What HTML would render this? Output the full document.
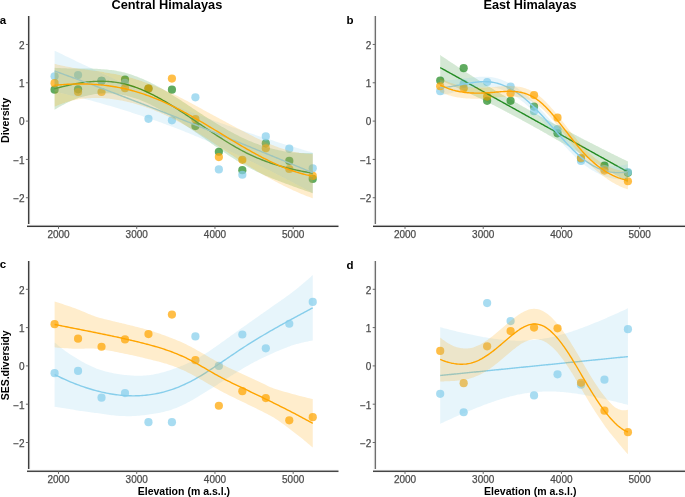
<!DOCTYPE html>
<html><head><meta charset="utf-8"><style>
html,body{margin:0;padding:0;background:#fff;width:685px;height:497px;overflow:hidden}
svg{display:block;will-change:transform}
text{font-family:"Liberation Sans",sans-serif}
.tk{font-size:10px;fill:#4d4d4d;stroke:#4d4d4d;stroke-width:0.25px}
.ti{font-size:13px;font-weight:bold;fill:#000}
.pl{font-size:11.5px;font-weight:bold;fill:#000}
.at{font-size:11px;font-weight:bold;fill:#000}
</style></head><body>
<svg width="685" height="497" viewBox="0 0 685 497">
<defs><filter id="sb" x="0" y="0" width="685" height="497" filterUnits="userSpaceOnUse"><feGaussianBlur stdDeviation="0.35"/></filter></defs>
<rect width="685" height="497" fill="#fff"/>
<g filter="url(#sb)"><circle cx="54.59" cy="89.68" r="4.1" fill="#228B22" fill-opacity="0.72"/><circle cx="78.06" cy="89.29" r="4.1" fill="#228B22" fill-opacity="0.72"/><circle cx="101.53" cy="80.86" r="4.1" fill="#228B22" fill-opacity="0.72"/><circle cx="125.00" cy="79.71" r="4.1" fill="#228B22" fill-opacity="0.72"/><circle cx="148.46" cy="88.53" r="4.1" fill="#228B22" fill-opacity="0.72"/><circle cx="171.93" cy="89.68" r="4.1" fill="#228B22" fill-opacity="0.72"/><circle cx="195.40" cy="126.08" r="4.1" fill="#228B22" fill-opacity="0.72"/><circle cx="218.87" cy="151.76" r="4.1" fill="#228B22" fill-opacity="0.72"/><circle cx="242.34" cy="170.15" r="4.1" fill="#228B22" fill-opacity="0.72"/><circle cx="265.81" cy="143.33" r="4.1" fill="#228B22" fill-opacity="0.72"/><circle cx="289.28" cy="160.95" r="4.1" fill="#228B22" fill-opacity="0.72"/><circle cx="312.75" cy="178.96" r="4.1" fill="#228B22" fill-opacity="0.72"/><circle cx="54.59" cy="76.27" r="4.1" fill="#87CEEB" fill-opacity="0.72"/><circle cx="78.06" cy="75.12" r="4.1" fill="#87CEEB" fill-opacity="0.72"/><circle cx="101.53" cy="80.86" r="4.1" fill="#87CEEB" fill-opacity="0.72"/><circle cx="125.00" cy="82.78" r="4.1" fill="#87CEEB" fill-opacity="0.72"/><circle cx="148.46" cy="118.80" r="4.1" fill="#87CEEB" fill-opacity="0.72"/><circle cx="171.93" cy="120.33" r="4.1" fill="#87CEEB" fill-opacity="0.72"/><circle cx="195.40" cy="97.34" r="4.1" fill="#87CEEB" fill-opacity="0.72"/><circle cx="218.87" cy="169.38" r="4.1" fill="#87CEEB" fill-opacity="0.72"/><circle cx="242.34" cy="174.75" r="4.1" fill="#87CEEB" fill-opacity="0.72"/><circle cx="265.81" cy="136.43" r="4.1" fill="#87CEEB" fill-opacity="0.72"/><circle cx="289.28" cy="148.69" r="4.1" fill="#87CEEB" fill-opacity="0.72"/><circle cx="312.75" cy="168.23" r="4.1" fill="#87CEEB" fill-opacity="0.72"/><circle cx="54.59" cy="83.16" r="4.1" fill="#FFA500" fill-opacity="0.72"/><circle cx="78.06" cy="91.98" r="4.1" fill="#FFA500" fill-opacity="0.72"/><circle cx="101.53" cy="91.98" r="4.1" fill="#FFA500" fill-opacity="0.72"/><circle cx="125.00" cy="88.14" r="4.1" fill="#FFA500" fill-opacity="0.72"/><circle cx="148.46" cy="88.53" r="4.1" fill="#FFA500" fill-opacity="0.72"/><circle cx="171.93" cy="78.56" r="4.1" fill="#FFA500" fill-opacity="0.72"/><circle cx="195.40" cy="119.18" r="4.1" fill="#FFA500" fill-opacity="0.72"/><circle cx="218.87" cy="157.12" r="4.1" fill="#FFA500" fill-opacity="0.72"/><circle cx="242.34" cy="159.80" r="4.1" fill="#FFA500" fill-opacity="0.72"/><circle cx="265.81" cy="148.31" r="4.1" fill="#FFA500" fill-opacity="0.72"/><circle cx="289.28" cy="169.00" r="4.1" fill="#FFA500" fill-opacity="0.72"/><circle cx="312.75" cy="175.90" r="4.1" fill="#FFA500" fill-opacity="0.72"/><path d="M54.59,67.87 L56.21,67.96 L57.84,68.05 L59.46,68.12 L61.08,68.19 L62.71,68.25 L64.33,68.30 L65.95,68.35 L67.58,68.38 L69.20,68.41 L70.82,68.43 L72.45,68.45 L74.07,68.48 L75.70,68.51 L77.32,68.53 L78.94,68.54 L80.57,68.54 L82.19,68.52 L83.81,68.50 L85.44,68.49 L87.06,68.50 L88.68,68.52 L90.31,68.55 L91.93,68.60 L93.56,68.66 L95.18,68.73 L96.80,68.81 L98.43,68.91 L100.05,69.02 L101.67,69.14 L103.30,69.27 L104.92,69.42 L106.55,69.57 L108.17,69.74 L109.79,69.92 L111.42,70.11 L113.04,70.33 L114.66,70.58 L116.29,70.85 L117.91,71.15 L119.53,71.47 L121.16,71.82 L122.78,72.20 L124.41,72.61 L126.03,73.05 L127.65,73.51 L129.28,74.01 L130.90,74.53 L132.52,75.07 L134.15,75.64 L135.77,76.24 L137.39,76.86 L139.02,77.50 L140.64,78.16 L142.27,78.85 L143.89,79.56 L145.51,80.29 L147.14,81.04 L148.76,81.80 L150.38,82.59 L152.01,83.39 L153.63,84.22 L155.25,85.06 L156.88,85.92 L158.50,86.80 L160.13,87.69 L161.75,88.61 L163.37,89.54 L165.00,90.48 L166.62,91.44 L168.24,92.41 L169.87,93.39 L171.49,94.39 L173.11,95.40 L174.74,96.42 L176.36,97.45 L177.99,98.49 L179.61,99.54 L181.23,100.59 L182.86,101.66 L184.48,102.73 L186.10,103.81 L187.73,104.89 L189.35,105.98 L190.97,107.07 L192.60,108.16 L194.22,109.24 L195.85,110.32 L197.47,111.40 L199.09,112.47 L200.72,113.53 L202.34,114.59 L203.96,115.64 L205.59,116.68 L207.21,117.72 L208.83,118.75 L210.46,119.77 L212.08,120.78 L213.71,121.79 L215.33,122.79 L216.95,123.77 L218.58,124.75 L220.20,125.71 L221.82,126.67 L223.45,127.62 L225.07,128.55 L226.69,129.47 L228.32,130.38 L229.94,131.28 L231.57,132.16 L233.19,133.04 L234.81,133.89 L236.44,134.74 L238.06,135.57 L239.68,136.38 L241.31,137.18 L242.93,137.97 L244.55,138.73 L246.18,139.47 L247.80,140.19 L249.43,140.89 L251.05,141.58 L252.67,142.24 L254.30,142.88 L255.92,143.50 L257.54,144.10 L259.17,144.69 L260.79,145.25 L262.41,145.79 L264.04,146.32 L265.66,146.83 L267.29,147.31 L268.91,147.78 L270.53,148.23 L272.16,148.66 L273.78,149.07 L275.40,149.46 L277.03,149.83 L278.65,150.19 L280.27,150.53 L281.90,150.84 L283.52,151.13 L285.15,151.40 L286.77,151.64 L288.39,151.87 L290.02,152.07 L291.64,152.25 L293.26,152.42 L294.89,152.56 L296.51,152.68 L298.13,152.79 L299.76,152.88 L301.38,152.96 L303.01,153.02 L304.63,153.06 L306.25,153.09 L307.88,153.11 L309.50,153.11 L311.12,153.11 L312.75,153.09 L312.75,193.17 L311.12,192.63 L309.50,192.09 L307.88,191.54 L306.25,190.99 L304.63,190.43 L303.01,189.86 L301.38,189.30 L299.76,188.72 L298.13,188.15 L296.51,187.57 L294.89,186.98 L293.26,186.39 L291.64,185.80 L290.02,185.21 L288.39,184.61 L286.77,184.01 L285.15,183.40 L283.52,182.80 L281.90,182.19 L280.27,181.57 L278.65,180.96 L277.03,180.33 L275.40,179.70 L273.78,179.05 L272.16,178.39 L270.53,177.73 L268.91,177.05 L267.29,176.36 L265.66,175.65 L264.04,174.94 L262.41,174.21 L260.79,173.46 L259.17,172.71 L257.54,171.94 L255.92,171.15 L254.30,170.35 L252.67,169.53 L251.05,168.69 L249.43,167.84 L247.80,166.97 L246.18,166.08 L244.55,165.18 L242.93,164.25 L241.31,163.31 L239.68,162.35 L238.06,161.37 L236.44,160.38 L234.81,159.36 L233.19,158.33 L231.57,157.29 L229.94,156.23 L228.32,155.15 L226.69,154.07 L225.07,152.97 L223.45,151.86 L221.82,150.74 L220.20,149.62 L218.58,148.49 L216.95,147.35 L215.33,146.20 L213.71,145.05 L212.08,143.90 L210.46,142.75 L208.83,141.59 L207.21,140.43 L205.59,139.28 L203.96,138.12 L202.34,136.97 L200.72,135.83 L199.09,134.68 L197.47,133.55 L195.85,132.41 L194.22,131.29 L192.60,130.18 L190.97,129.07 L189.35,127.98 L187.73,126.89 L186.10,125.81 L184.48,124.73 L182.86,123.66 L181.23,122.59 L179.61,121.54 L177.99,120.49 L176.36,119.45 L174.74,118.42 L173.11,117.40 L171.49,116.39 L169.87,115.39 L168.24,114.41 L166.62,113.44 L165.00,112.48 L163.37,111.54 L161.75,110.61 L160.13,109.69 L158.50,108.80 L156.88,107.92 L155.25,107.06 L153.63,106.22 L152.01,105.39 L150.38,104.59 L148.76,103.80 L147.14,103.04 L145.51,102.31 L143.89,101.60 L142.27,100.91 L140.64,100.26 L139.02,99.62 L137.39,99.02 L135.77,98.44 L134.15,97.90 L132.52,97.38 L130.90,96.89 L129.28,96.43 L127.65,96.00 L126.03,95.60 L124.41,95.24 L122.78,94.91 L121.16,94.60 L119.53,94.33 L117.91,94.09 L116.29,93.88 L114.66,93.70 L113.04,93.55 L111.42,93.43 L109.79,93.33 L108.17,93.27 L106.55,93.25 L104.92,93.26 L103.30,93.32 L101.67,93.41 L100.05,93.53 L98.43,93.69 L96.80,93.88 L95.18,94.10 L93.56,94.35 L91.93,94.64 L90.31,94.95 L88.68,95.28 L87.06,95.64 L85.44,96.03 L83.81,96.44 L82.19,96.87 L80.57,97.34 L78.94,97.86 L77.32,98.42 L75.70,99.03 L74.07,99.68 L72.45,100.35 L70.82,101.05 L69.20,101.78 L67.58,102.54 L65.95,103.33 L64.33,104.15 L62.71,105.01 L61.08,105.90 L59.46,106.82 L57.84,107.77 L56.21,108.74 L54.59,109.74Z" fill="#228B22" fill-opacity="0.2"/><path d="M54.59,88.81 L56.21,88.35 L57.84,87.91 L59.46,87.47 L61.08,87.04 L62.71,86.63 L64.33,86.23 L65.95,85.84 L67.58,85.46 L69.20,85.09 L70.82,84.74 L72.45,84.40 L74.07,84.08 L75.70,83.77 L77.32,83.48 L78.94,83.20 L80.57,82.94 L82.19,82.70 L83.81,82.47 L85.44,82.26 L87.06,82.07 L88.68,81.90 L90.31,81.75 L91.93,81.62 L93.56,81.51 L95.18,81.42 L96.80,81.35 L98.43,81.30 L100.05,81.27 L101.67,81.27 L103.30,81.29 L104.92,81.34 L106.55,81.41 L108.17,81.50 L109.79,81.62 L111.42,81.77 L113.04,81.94 L114.66,82.14 L116.29,82.37 L117.91,82.62 L119.53,82.90 L121.16,83.21 L122.78,83.56 L124.41,83.93 L126.03,84.33 L127.65,84.76 L129.28,85.22 L130.90,85.71 L132.52,86.22 L134.15,86.77 L135.77,87.34 L137.39,87.94 L139.02,88.56 L140.64,89.21 L142.27,89.88 L143.89,90.58 L145.51,91.30 L147.14,92.04 L148.76,92.80 L150.38,93.59 L152.01,94.39 L153.63,95.22 L155.25,96.06 L156.88,96.92 L158.50,97.80 L160.13,98.69 L161.75,99.61 L163.37,100.54 L165.00,101.48 L166.62,102.44 L168.24,103.41 L169.87,104.39 L171.49,105.39 L173.11,106.40 L174.74,107.42 L176.36,108.45 L177.99,109.49 L179.61,110.54 L181.23,111.59 L182.86,112.66 L184.48,113.73 L186.10,114.81 L187.73,115.89 L189.35,116.98 L190.97,118.07 L192.60,119.17 L194.22,120.27 L195.85,121.37 L197.47,122.47 L199.09,123.57 L200.72,124.68 L202.34,125.78 L203.96,126.88 L205.59,127.98 L207.21,129.08 L208.83,130.17 L210.46,131.26 L212.08,132.34 L213.71,133.42 L215.33,134.49 L216.95,135.56 L218.58,136.62 L220.20,137.67 L221.82,138.71 L223.45,139.74 L225.07,140.76 L226.69,141.77 L228.32,142.77 L229.94,143.75 L231.57,144.73 L233.19,145.68 L234.81,146.63 L236.44,147.56 L238.06,148.47 L239.68,149.37 L241.31,150.25 L242.93,151.11 L244.55,151.95 L246.18,152.78 L247.80,153.58 L249.43,154.37 L251.05,155.13 L252.67,155.88 L254.30,156.61 L255.92,157.33 L257.54,158.02 L259.17,158.70 L260.79,159.36 L262.41,160.00 L264.04,160.63 L265.66,161.24 L267.29,161.83 L268.91,162.41 L270.53,162.98 L272.16,163.53 L273.78,164.06 L275.40,164.58 L277.03,165.08 L278.65,165.57 L280.27,166.05 L281.90,166.51 L283.52,166.96 L285.15,167.40 L286.77,167.83 L288.39,168.24 L290.02,168.64 L291.64,169.03 L293.26,169.41 L294.89,169.77 L296.51,170.13 L298.13,170.47 L299.76,170.80 L301.38,171.13 L303.01,171.44 L304.63,171.74 L306.25,172.04 L307.88,172.32 L309.50,172.60 L311.12,172.87 L312.75,173.13" fill="none" stroke="#228B22" stroke-width="1.4" stroke-linejoin="round"/><path d="M54.59,50.63 L56.21,51.43 L57.84,52.22 L59.46,53.01 L61.08,53.81 L62.71,54.60 L64.33,55.39 L65.95,56.17 L67.58,56.96 L69.20,57.75 L70.82,58.53 L72.45,59.31 L74.07,60.10 L75.70,60.88 L77.32,61.66 L78.94,62.43 L80.57,63.21 L82.19,63.99 L83.81,64.76 L85.44,65.54 L87.06,66.31 L88.68,67.08 L90.31,67.85 L91.93,68.62 L93.56,69.38 L95.18,70.15 L96.80,70.91 L98.43,71.67 L100.05,72.44 L101.67,73.20 L103.30,73.95 L104.92,74.71 L106.55,75.47 L108.17,76.22 L109.79,76.97 L111.42,77.72 L113.04,78.47 L114.66,79.21 L116.29,79.96 L117.91,80.71 L119.53,81.45 L121.16,82.19 L122.78,82.93 L124.41,83.67 L126.03,84.40 L127.65,85.14 L129.28,85.87 L130.90,86.60 L132.52,87.32 L134.15,88.05 L135.77,88.78 L137.39,89.50 L139.02,90.22 L140.64,90.94 L142.27,91.66 L143.89,92.38 L145.51,93.09 L147.14,93.80 L148.76,94.50 L150.38,95.21 L152.01,95.92 L153.63,96.62 L155.25,97.33 L156.88,98.03 L158.50,98.73 L160.13,99.42 L161.75,100.11 L163.37,100.80 L165.00,101.48 L166.62,102.15 L168.24,102.83 L169.87,103.51 L171.49,104.18 L173.11,104.86 L174.74,105.53 L176.36,106.20 L177.99,106.86 L179.61,107.53 L181.23,108.19 L182.86,108.84 L184.48,109.48 L186.10,110.12 L187.73,110.76 L189.35,111.39 L190.97,112.02 L192.60,112.64 L194.22,113.26 L195.85,113.88 L197.47,114.50 L199.09,115.11 L200.72,115.73 L202.34,116.35 L203.96,116.96 L205.59,117.57 L207.21,118.17 L208.83,118.77 L210.46,119.36 L212.08,119.95 L213.71,120.54 L215.33,121.13 L216.95,121.71 L218.58,122.30 L220.20,122.88 L221.82,123.47 L223.45,124.04 L225.07,124.62 L226.69,125.19 L228.32,125.76 L229.94,126.33 L231.57,126.90 L233.19,127.46 L234.81,128.02 L236.44,128.58 L238.06,129.14 L239.68,129.70 L241.31,130.25 L242.93,130.80 L244.55,131.35 L246.18,131.90 L247.80,132.44 L249.43,132.98 L251.05,133.52 L252.67,134.06 L254.30,134.60 L255.92,135.13 L257.54,135.66 L259.17,136.20 L260.79,136.72 L262.41,137.25 L264.04,137.77 L265.66,138.30 L267.29,138.81 L268.91,139.33 L270.53,139.85 L272.16,140.36 L273.78,140.87 L275.40,141.38 L277.03,141.89 L278.65,142.39 L280.27,142.90 L281.90,143.40 L283.52,143.90 L285.15,144.39 L286.77,144.89 L288.39,145.38 L290.02,145.87 L291.64,146.36 L293.26,146.84 L294.89,147.33 L296.51,147.81 L298.13,148.29 L299.76,148.77 L301.38,149.25 L303.01,149.72 L304.63,150.19 L306.25,150.66 L307.88,151.13 L309.50,151.60 L311.12,152.06 L312.75,152.52 L312.75,192.92 L311.12,192.05 L309.50,191.17 L307.88,190.30 L306.25,189.43 L304.63,188.56 L303.01,187.69 L301.38,186.83 L299.76,185.97 L298.13,185.11 L296.51,184.26 L294.89,183.40 L293.26,182.55 L291.64,181.70 L290.02,180.85 L288.39,180.01 L286.77,179.17 L285.15,178.32 L283.52,177.49 L281.90,176.65 L280.27,175.82 L278.65,174.98 L277.03,174.16 L275.40,173.33 L273.78,172.51 L272.16,171.69 L270.53,170.87 L268.91,170.05 L267.29,169.24 L265.66,168.42 L264.04,167.61 L262.41,166.81 L260.79,166.00 L259.17,165.20 L257.54,164.40 L255.92,163.61 L254.30,162.81 L252.67,162.02 L251.05,161.23 L249.43,160.45 L247.80,159.66 L246.18,158.88 L244.55,158.10 L242.93,157.33 L241.31,156.56 L239.68,155.79 L238.06,155.02 L236.44,154.26 L234.81,153.50 L233.19,152.74 L231.57,151.98 L229.94,151.23 L228.32,150.48 L226.69,149.73 L225.07,148.99 L223.45,148.25 L221.82,147.51 L220.20,146.78 L218.58,146.05 L216.95,145.32 L215.33,144.60 L213.71,143.87 L212.08,143.15 L210.46,142.43 L208.83,141.72 L207.21,141.01 L205.59,140.30 L203.96,139.60 L202.34,138.91 L200.72,138.23 L199.09,137.54 L197.47,136.85 L195.85,136.17 L194.22,135.49 L192.60,134.81 L190.97,134.13 L189.35,133.46 L187.73,132.80 L186.10,132.14 L184.48,131.49 L182.86,130.84 L181.23,130.20 L179.61,129.57 L177.99,128.94 L176.36,128.32 L174.74,127.70 L173.11,127.09 L171.49,126.48 L169.87,125.87 L168.24,125.26 L166.62,124.66 L165.00,124.05 L163.37,123.45 L161.75,122.86 L160.13,122.27 L158.50,121.69 L156.88,121.12 L155.25,120.55 L153.63,119.98 L152.01,119.42 L150.38,118.85 L148.76,118.29 L147.14,117.74 L145.51,117.18 L143.89,116.63 L142.27,116.08 L140.64,115.54 L139.02,115.00 L137.39,114.46 L135.77,113.93 L134.15,113.40 L132.52,112.88 L130.90,112.36 L129.28,111.84 L127.65,111.32 L126.03,110.80 L124.41,110.29 L122.78,109.79 L121.16,109.28 L119.53,108.78 L117.91,108.29 L116.29,107.80 L114.66,107.31 L113.04,106.82 L111.42,106.34 L109.79,105.85 L108.17,105.38 L106.55,104.90 L104.92,104.43 L103.30,103.96 L101.67,103.50 L100.05,103.04 L98.43,102.58 L96.80,102.13 L95.18,101.68 L93.56,101.23 L91.93,100.78 L90.31,100.34 L88.68,99.90 L87.06,99.47 L85.44,99.03 L83.81,98.61 L82.19,98.18 L80.57,97.76 L78.94,97.34 L77.32,96.92 L75.70,96.51 L74.07,96.10 L72.45,95.69 L70.82,95.29 L69.20,94.89 L67.58,94.49 L65.95,94.10 L64.33,93.71 L62.71,93.32 L61.08,92.93 L59.46,92.55 L57.84,92.18 L56.21,91.80 L54.59,91.43Z" fill="#87CEEB" fill-opacity="0.2"/><path d="M54.59,71.03 L56.21,71.61 L57.84,72.20 L59.46,72.78 L61.08,73.37 L62.71,73.96 L64.33,74.55 L65.95,75.14 L67.58,75.73 L69.20,76.32 L70.82,76.91 L72.45,77.50 L74.07,78.10 L75.70,78.69 L77.32,79.29 L78.94,79.89 L80.57,80.48 L82.19,81.08 L83.81,81.68 L85.44,82.29 L87.06,82.89 L88.68,83.49 L90.31,84.09 L91.93,84.70 L93.56,85.31 L95.18,85.91 L96.80,86.52 L98.43,87.13 L100.05,87.74 L101.67,88.35 L103.30,88.96 L104.92,89.57 L106.55,90.18 L108.17,90.80 L109.79,91.41 L111.42,92.03 L113.04,92.64 L114.66,93.26 L116.29,93.88 L117.91,94.50 L119.53,95.12 L121.16,95.74 L122.78,96.36 L124.41,96.98 L126.03,97.60 L127.65,98.23 L129.28,98.85 L130.90,99.48 L132.52,100.10 L134.15,100.73 L135.77,101.36 L137.39,101.98 L139.02,102.61 L140.64,103.24 L142.27,103.87 L143.89,104.50 L145.51,105.13 L147.14,105.77 L148.76,106.40 L150.38,107.03 L152.01,107.67 L153.63,108.30 L155.25,108.94 L156.88,109.57 L158.50,110.21 L160.13,110.85 L161.75,111.49 L163.37,112.13 L165.00,112.76 L166.62,113.40 L168.24,114.05 L169.87,114.69 L171.49,115.33 L173.11,115.97 L174.74,116.61 L176.36,117.26 L177.99,117.90 L179.61,118.55 L181.23,119.19 L182.86,119.84 L184.48,120.48 L186.10,121.13 L187.73,121.78 L189.35,122.43 L190.97,123.08 L192.60,123.73 L194.22,124.37 L195.85,125.02 L197.47,125.68 L199.09,126.33 L200.72,126.98 L202.34,127.63 L203.96,128.28 L205.59,128.94 L207.21,129.59 L208.83,130.24 L210.46,130.90 L212.08,131.55 L213.71,132.21 L215.33,132.86 L216.95,133.52 L218.58,134.17 L220.20,134.83 L221.82,135.49 L223.45,136.15 L225.07,136.80 L226.69,137.46 L228.32,138.12 L229.94,138.78 L231.57,139.44 L233.19,140.10 L234.81,140.76 L236.44,141.42 L238.06,142.08 L239.68,142.74 L241.31,143.40 L242.93,144.07 L244.55,144.73 L246.18,145.39 L247.80,146.05 L249.43,146.72 L251.05,147.38 L252.67,148.04 L254.30,148.71 L255.92,149.37 L257.54,150.03 L259.17,150.70 L260.79,151.36 L262.41,152.03 L264.04,152.69 L265.66,153.36 L267.29,154.02 L268.91,154.69 L270.53,155.36 L272.16,156.02 L273.78,156.69 L275.40,157.36 L277.03,158.02 L278.65,158.69 L280.27,159.36 L281.90,160.02 L283.52,160.69 L285.15,161.36 L286.77,162.03 L288.39,162.69 L290.02,163.36 L291.64,164.03 L293.26,164.70 L294.89,165.37 L296.51,166.03 L298.13,166.70 L299.76,167.37 L301.38,168.04 L303.01,168.71 L304.63,169.38 L306.25,170.05 L307.88,170.71 L309.50,171.38 L311.12,172.05 L312.75,172.72" fill="none" stroke="#87CEEB" stroke-width="1.4" stroke-linejoin="round"/><path d="M54.59,63.86 L56.21,64.26 L57.84,64.65 L59.46,65.02 L61.08,65.39 L62.71,65.74 L64.33,66.09 L65.95,66.42 L67.58,66.73 L69.20,67.04 L70.82,67.33 L72.45,67.63 L74.07,67.92 L75.70,68.21 L77.32,68.49 L78.94,68.74 L80.57,68.98 L82.19,69.18 L83.81,69.37 L85.44,69.57 L87.06,69.77 L88.68,69.99 L90.31,70.20 L91.93,70.42 L93.56,70.65 L95.18,70.88 L96.80,71.12 L98.43,71.36 L100.05,71.61 L101.67,71.86 L103.30,72.12 L104.92,72.38 L106.55,72.64 L108.17,72.90 L109.79,73.17 L111.42,73.45 L113.04,73.74 L114.66,74.04 L116.29,74.36 L117.91,74.69 L119.53,75.03 L121.16,75.39 L122.78,75.76 L124.41,76.15 L126.03,76.55 L127.65,76.97 L129.28,77.40 L130.90,77.84 L132.52,78.30 L134.15,78.77 L135.77,79.26 L137.39,79.76 L139.02,80.27 L140.64,80.80 L142.27,81.34 L143.89,81.89 L145.51,82.46 L147.14,83.03 L148.76,83.63 L150.38,84.23 L152.01,84.84 L153.63,85.47 L155.25,86.11 L156.88,86.76 L158.50,87.43 L160.13,88.10 L161.75,88.79 L163.37,89.49 L165.00,90.20 L166.62,90.92 L168.24,91.66 L169.87,92.41 L171.49,93.17 L173.11,93.94 L174.74,94.72 L176.36,95.51 L177.99,96.32 L179.61,97.13 L181.23,97.96 L182.86,98.79 L184.48,99.63 L186.10,100.48 L187.73,101.34 L189.35,102.21 L190.97,103.09 L192.60,103.96 L194.22,104.84 L195.85,105.72 L197.47,106.60 L199.09,107.48 L200.72,108.36 L202.34,109.24 L203.96,110.13 L205.59,111.01 L207.21,111.89 L208.83,112.77 L210.46,113.65 L212.08,114.53 L213.71,115.42 L215.33,116.30 L216.95,117.18 L218.58,118.06 L220.20,118.94 L221.82,119.81 L223.45,120.69 L225.07,121.56 L226.69,122.44 L228.32,123.31 L229.94,124.18 L231.57,125.05 L233.19,125.92 L234.81,126.79 L236.44,127.65 L238.06,128.51 L239.68,129.37 L241.31,130.23 L242.93,131.08 L244.55,131.93 L246.18,132.77 L247.80,133.61 L249.43,134.44 L251.05,135.26 L252.67,136.07 L254.30,136.88 L255.92,137.67 L257.54,138.46 L259.17,139.23 L260.79,140.00 L262.41,140.75 L264.04,141.48 L265.66,142.21 L267.29,142.91 L268.91,143.61 L270.53,144.28 L272.16,144.95 L273.78,145.59 L275.40,146.21 L277.03,146.82 L278.65,147.41 L280.27,147.98 L281.90,148.52 L283.52,149.04 L285.15,149.54 L286.77,150.01 L288.39,150.46 L290.02,150.88 L291.64,151.28 L293.26,151.65 L294.89,152.00 L296.51,152.32 L298.13,152.62 L299.76,152.89 L301.38,153.14 L303.01,153.36 L304.63,153.56 L306.25,153.72 L307.88,153.87 L309.50,153.98 L311.12,154.08 L312.75,154.14 L312.75,198.21 L311.12,197.66 L309.50,197.09 L307.88,196.50 L306.25,195.89 L304.63,195.26 L303.01,194.61 L301.38,193.94 L299.76,193.26 L298.13,192.56 L296.51,191.85 L294.89,191.12 L293.26,190.38 L291.64,189.62 L290.02,188.85 L288.39,188.07 L286.77,187.28 L285.15,186.48 L283.52,185.67 L281.90,184.85 L280.27,184.02 L278.65,183.19 L277.03,182.34 L275.40,181.48 L273.78,180.62 L272.16,179.74 L270.53,178.85 L268.91,177.95 L267.29,177.05 L265.66,176.13 L264.04,175.21 L262.41,174.27 L260.79,173.33 L259.17,172.38 L257.54,171.42 L255.92,170.45 L254.30,169.47 L252.67,168.49 L251.05,167.50 L249.43,166.49 L247.80,165.49 L246.18,164.47 L244.55,163.45 L242.93,162.42 L241.31,161.38 L239.68,160.33 L238.06,159.28 L236.44,158.22 L234.81,157.16 L233.19,156.09 L231.57,155.01 L229.94,153.93 L228.32,152.85 L226.69,151.77 L225.07,150.68 L223.45,149.59 L221.82,148.50 L220.20,147.41 L218.58,146.33 L216.95,145.24 L215.33,144.16 L213.71,143.08 L212.08,142.00 L210.46,140.93 L208.83,139.87 L207.21,138.81 L205.59,137.76 L203.96,136.71 L202.34,135.68 L200.72,134.65 L199.09,133.64 L197.47,132.63 L195.85,131.64 L194.22,130.65 L192.60,129.68 L190.97,128.73 L189.35,127.79 L187.73,126.85 L186.10,125.93 L184.48,125.02 L182.86,124.11 L181.23,123.22 L179.61,122.34 L177.99,121.47 L176.36,120.61 L174.74,119.76 L173.11,118.93 L171.49,118.11 L169.87,117.31 L168.24,116.51 L166.62,115.74 L165.00,114.98 L163.37,114.23 L161.75,113.50 L160.13,112.79 L158.50,112.09 L156.88,111.40 L155.25,110.73 L153.63,110.08 L152.01,109.45 L150.38,108.83 L148.76,108.23 L147.14,107.64 L145.51,107.07 L143.89,106.52 L142.27,105.98 L140.64,105.46 L139.02,104.96 L137.39,104.47 L135.77,104.00 L134.15,103.55 L132.52,103.12 L130.90,102.70 L129.28,102.30 L127.65,101.91 L126.03,101.54 L124.41,101.19 L122.78,100.86 L121.16,100.54 L119.53,100.24 L117.91,99.96 L116.29,99.69 L114.66,99.44 L113.04,99.21 L111.42,98.99 L109.79,98.78 L108.17,98.60 L106.55,98.44 L104.92,98.31 L103.30,98.20 L101.67,98.12 L100.05,98.05 L98.43,98.01 L96.80,98.00 L95.18,98.00 L93.56,98.02 L91.93,98.07 L90.31,98.13 L88.68,98.22 L87.06,98.32 L85.44,98.44 L83.81,98.58 L82.19,98.74 L80.57,98.93 L78.94,99.17 L77.32,99.46 L75.70,99.79 L74.07,100.16 L72.45,100.55 L70.82,100.96 L69.20,101.40 L67.58,101.86 L65.95,102.36 L64.33,102.90 L62.71,103.46 L61.08,104.06 L59.46,104.68 L57.84,105.34 L56.21,106.02 L54.59,106.73Z" fill="#FFA500" fill-opacity="0.2"/><path d="M54.59,85.30 L56.21,85.14 L57.84,84.99 L59.46,84.85 L61.08,84.72 L62.71,84.60 L64.33,84.49 L65.95,84.39 L67.58,84.30 L69.20,84.22 L70.82,84.15 L72.45,84.09 L74.07,84.04 L75.70,84.00 L77.32,83.97 L78.94,83.96 L80.57,83.95 L82.19,83.96 L83.81,83.98 L85.44,84.01 L87.06,84.05 L88.68,84.10 L90.31,84.17 L91.93,84.25 L93.56,84.34 L95.18,84.44 L96.80,84.56 L98.43,84.69 L100.05,84.83 L101.67,84.99 L103.30,85.16 L104.92,85.34 L106.55,85.54 L108.17,85.75 L109.79,85.98 L111.42,86.22 L113.04,86.47 L114.66,86.74 L116.29,87.02 L117.91,87.32 L119.53,87.64 L121.16,87.97 L122.78,88.31 L124.41,88.67 L126.03,89.05 L127.65,89.44 L129.28,89.85 L130.90,90.27 L132.52,90.71 L134.15,91.16 L135.77,91.63 L137.39,92.12 L139.02,92.62 L140.64,93.13 L142.27,93.66 L143.89,94.20 L145.51,94.76 L147.14,95.34 L148.76,95.93 L150.38,96.53 L152.01,97.15 L153.63,97.78 L155.25,98.42 L156.88,99.08 L158.50,99.76 L160.13,100.44 L161.75,101.15 L163.37,101.86 L165.00,102.59 L166.62,103.33 L168.24,104.09 L169.87,104.86 L171.49,105.64 L173.11,106.43 L174.74,107.24 L176.36,108.06 L177.99,108.89 L179.61,109.73 L181.23,110.59 L182.86,111.45 L184.48,112.32 L186.10,113.21 L187.73,114.10 L189.35,115.00 L190.97,115.91 L192.60,116.82 L194.22,117.75 L195.85,118.68 L197.47,119.62 L199.09,120.56 L200.72,121.51 L202.34,122.46 L203.96,123.42 L205.59,124.38 L207.21,125.35 L208.83,126.32 L210.46,127.29 L212.08,128.27 L213.71,129.25 L215.33,130.23 L216.95,131.21 L218.58,132.19 L220.20,133.17 L221.82,134.16 L223.45,135.14 L225.07,136.12 L226.69,137.10 L228.32,138.08 L229.94,139.06 L231.57,140.03 L233.19,141.00 L234.81,141.97 L236.44,142.94 L238.06,143.90 L239.68,144.85 L241.31,145.80 L242.93,146.75 L244.55,147.69 L246.18,148.62 L247.80,149.55 L249.43,150.47 L251.05,151.38 L252.67,152.28 L254.30,153.18 L255.92,154.06 L257.54,154.94 L259.17,155.81 L260.79,156.66 L262.41,157.51 L264.04,158.34 L265.66,159.17 L267.29,159.98 L268.91,160.78 L270.53,161.57 L272.16,162.34 L273.78,163.10 L275.40,163.85 L277.03,164.58 L278.65,165.30 L280.27,166.00 L281.90,166.69 L283.52,167.36 L285.15,168.01 L286.77,168.65 L288.39,169.27 L290.02,169.87 L291.64,170.45 L293.26,171.01 L294.89,171.56 L296.51,172.09 L298.13,172.59 L299.76,173.08 L301.38,173.54 L303.01,173.99 L304.63,174.41 L306.25,174.81 L307.88,175.18 L309.50,175.54 L311.12,175.87 L312.75,176.18" fill="none" stroke="#FFA500" stroke-width="1.4" stroke-linejoin="round"/><circle cx="440.20" cy="80.48" r="4.1" fill="#228B22" fill-opacity="0.72"/><circle cx="463.67" cy="68.22" r="4.1" fill="#228B22" fill-opacity="0.72"/><circle cx="487.13" cy="100.79" r="4.1" fill="#228B22" fill-opacity="0.72"/><circle cx="510.60" cy="100.79" r="4.1" fill="#228B22" fill-opacity="0.72"/><circle cx="534.06" cy="106.54" r="4.1" fill="#228B22" fill-opacity="0.72"/><circle cx="557.53" cy="133.36" r="4.1" fill="#228B22" fill-opacity="0.72"/><circle cx="581.00" cy="158.65" r="4.1" fill="#228B22" fill-opacity="0.72"/><circle cx="604.46" cy="165.55" r="4.1" fill="#228B22" fill-opacity="0.72"/><circle cx="627.93" cy="172.83" r="4.1" fill="#228B22" fill-opacity="0.72"/><circle cx="440.20" cy="91.21" r="4.1" fill="#87CEEB" fill-opacity="0.72"/><circle cx="463.67" cy="83.93" r="4.1" fill="#87CEEB" fill-opacity="0.72"/><circle cx="487.13" cy="82.01" r="4.1" fill="#87CEEB" fill-opacity="0.72"/><circle cx="510.60" cy="86.61" r="4.1" fill="#87CEEB" fill-opacity="0.72"/><circle cx="534.06" cy="111.14" r="4.1" fill="#87CEEB" fill-opacity="0.72"/><circle cx="557.53" cy="129.15" r="4.1" fill="#87CEEB" fill-opacity="0.72"/><circle cx="581.00" cy="160.95" r="4.1" fill="#87CEEB" fill-opacity="0.72"/><circle cx="604.46" cy="169.00" r="4.1" fill="#87CEEB" fill-opacity="0.72"/><circle cx="627.93" cy="172.07" r="4.1" fill="#87CEEB" fill-opacity="0.72"/><circle cx="440.20" cy="86.23" r="4.1" fill="#FFA500" fill-opacity="0.72"/><circle cx="463.67" cy="88.14" r="4.1" fill="#FFA500" fill-opacity="0.72"/><circle cx="487.13" cy="96.58" r="4.1" fill="#FFA500" fill-opacity="0.72"/><circle cx="510.60" cy="93.13" r="4.1" fill="#FFA500" fill-opacity="0.72"/><circle cx="534.06" cy="95.04" r="4.1" fill="#FFA500" fill-opacity="0.72"/><circle cx="557.53" cy="117.65" r="4.1" fill="#FFA500" fill-opacity="0.72"/><circle cx="581.00" cy="157.89" r="4.1" fill="#FFA500" fill-opacity="0.72"/><circle cx="604.46" cy="170.53" r="4.1" fill="#FFA500" fill-opacity="0.72"/><circle cx="627.93" cy="181.26" r="4.1" fill="#FFA500" fill-opacity="0.72"/><path d="M440.20,55.10 L441.38,55.90 L442.56,56.69 L443.74,57.49 L444.92,58.28 L446.10,59.07 L447.28,59.86 L448.46,60.65 L449.64,61.43 L450.83,62.22 L452.01,63.00 L453.19,63.78 L454.37,64.56 L455.55,65.34 L456.73,66.11 L457.91,66.88 L459.09,67.65 L460.27,68.42 L461.45,69.19 L462.63,69.95 L463.81,70.72 L464.99,71.48 L466.17,72.23 L467.35,72.99 L468.54,73.74 L469.72,74.49 L470.90,75.24 L472.08,75.99 L473.26,76.74 L474.44,77.49 L475.62,78.24 L476.80,78.99 L477.98,79.73 L479.16,80.48 L480.34,81.23 L481.52,81.97 L482.70,82.71 L483.88,83.45 L485.06,84.19 L486.25,84.93 L487.43,85.66 L488.61,86.39 L489.79,87.12 L490.97,87.85 L492.15,88.57 L493.33,89.28 L494.51,90.00 L495.69,90.71 L496.87,91.41 L498.05,92.11 L499.23,92.81 L500.41,93.50 L501.59,94.19 L502.78,94.88 L503.96,95.57 L505.14,96.25 L506.32,96.94 L507.50,97.63 L508.68,98.31 L509.86,99.00 L511.04,99.69 L512.22,100.37 L513.40,101.05 L514.58,101.74 L515.76,102.42 L516.94,103.10 L518.12,103.78 L519.30,104.45 L520.49,105.13 L521.67,105.81 L522.85,106.48 L524.03,107.15 L525.21,107.82 L526.39,108.49 L527.57,109.16 L528.75,109.83 L529.93,110.49 L531.11,111.15 L532.29,111.81 L533.47,112.47 L534.65,113.13 L535.83,113.78 L537.01,114.44 L538.20,115.09 L539.38,115.73 L540.56,116.38 L541.74,117.03 L542.92,117.67 L544.10,118.31 L545.28,118.96 L546.46,119.60 L547.64,120.23 L548.82,120.87 L550.00,121.51 L551.18,122.14 L552.36,122.78 L553.54,123.41 L554.72,124.04 L555.91,124.68 L557.09,125.31 L558.27,125.94 L559.45,126.57 L560.63,127.20 L561.81,127.83 L562.99,128.45 L564.17,129.08 L565.35,129.71 L566.53,130.34 L567.71,130.97 L568.89,131.60 L570.07,132.22 L571.25,132.85 L572.44,133.48 L573.62,134.10 L574.80,134.72 L575.98,135.34 L577.16,135.96 L578.34,136.57 L579.52,137.19 L580.70,137.80 L581.88,138.41 L583.06,139.02 L584.24,139.63 L585.42,140.24 L586.60,140.84 L587.78,141.45 L588.96,142.05 L590.15,142.66 L591.33,143.26 L592.51,143.86 L593.69,144.46 L594.87,145.06 L596.05,145.66 L597.23,146.26 L598.41,146.86 L599.59,147.46 L600.77,148.06 L601.95,148.66 L603.13,149.25 L604.31,149.85 L605.49,150.44 L606.67,151.04 L607.86,151.63 L609.04,152.22 L610.22,152.80 L611.40,153.39 L612.58,153.98 L613.76,154.56 L614.94,155.15 L616.12,155.73 L617.30,156.31 L618.48,156.89 L619.66,157.47 L620.84,158.05 L622.02,158.63 L623.20,159.20 L624.38,159.78 L625.57,160.35 L626.75,160.93 L627.93,161.50 L627.93,182.50 L626.75,181.76 L625.57,181.02 L624.38,180.28 L623.20,179.55 L622.02,178.81 L620.84,178.07 L619.66,177.34 L618.48,176.60 L617.30,175.87 L616.12,175.14 L614.94,174.41 L613.76,173.68 L612.58,172.95 L611.40,172.22 L610.22,171.50 L609.04,170.77 L607.86,170.05 L606.67,169.33 L605.49,168.61 L604.31,167.89 L603.13,167.17 L601.95,166.45 L600.77,165.74 L599.59,165.02 L598.41,164.31 L597.23,163.59 L596.05,162.88 L594.87,162.17 L593.69,161.46 L592.51,160.74 L591.33,160.03 L590.15,159.32 L588.96,158.61 L587.78,157.90 L586.60,157.19 L585.42,156.49 L584.24,155.78 L583.06,155.08 L581.88,154.37 L580.70,153.67 L579.52,152.97 L578.34,152.27 L577.16,151.57 L575.98,150.88 L574.80,150.18 L573.62,149.49 L572.44,148.80 L571.25,148.11 L570.07,147.43 L568.89,146.74 L567.71,146.06 L566.53,145.37 L565.35,144.69 L564.17,144.00 L562.99,143.32 L561.81,142.63 L560.63,141.95 L559.45,141.27 L558.27,140.58 L557.09,139.90 L555.91,139.22 L554.72,138.54 L553.54,137.86 L552.36,137.18 L551.18,136.50 L550.00,135.82 L548.82,135.14 L547.64,134.47 L546.46,133.79 L545.28,133.12 L544.10,132.45 L542.92,131.78 L541.74,131.11 L540.56,130.44 L539.38,129.77 L538.20,129.11 L537.01,128.45 L535.83,127.79 L534.65,127.13 L533.47,126.47 L532.29,125.82 L531.11,125.16 L529.93,124.51 L528.75,123.86 L527.57,123.22 L526.39,122.57 L525.21,121.93 L524.03,121.29 L522.85,120.64 L521.67,120.01 L520.49,119.37 L519.30,118.73 L518.12,118.10 L516.94,117.46 L515.76,116.83 L514.58,116.20 L513.40,115.57 L512.22,114.94 L511.04,114.31 L509.86,113.68 L508.68,113.05 L507.50,112.42 L506.32,111.80 L505.14,111.17 L503.96,110.55 L502.78,109.92 L501.59,109.30 L500.41,108.68 L499.23,108.05 L498.05,107.43 L496.87,106.82 L495.69,106.21 L494.51,105.61 L493.33,105.01 L492.15,104.41 L490.97,103.82 L489.79,103.23 L488.61,102.65 L487.43,102.07 L486.25,101.49 L485.06,100.91 L483.88,100.33 L482.70,99.76 L481.52,99.19 L480.34,98.62 L479.16,98.06 L477.98,97.49 L476.80,96.92 L475.62,96.36 L474.44,95.79 L473.26,95.23 L472.08,94.67 L470.90,94.10 L469.72,93.54 L468.54,92.97 L467.35,92.41 L466.17,91.86 L464.99,91.30 L463.81,90.75 L462.63,90.20 L461.45,89.65 L460.27,89.10 L459.09,88.56 L457.91,88.01 L456.73,87.47 L455.55,86.94 L454.37,86.40 L453.19,85.87 L452.01,85.33 L450.83,84.80 L449.64,84.27 L448.46,83.75 L447.28,83.22 L446.10,82.70 L444.92,82.17 L443.74,81.65 L442.56,81.13 L441.38,80.62 L440.20,80.10Z" fill="#228B22" fill-opacity="0.2"/><path d="M440.20,67.60 L441.38,68.26 L442.56,68.91 L443.74,69.57 L444.92,70.23 L446.10,70.88 L447.28,71.54 L448.46,72.20 L449.64,72.85 L450.83,73.51 L452.01,74.17 L453.19,74.82 L454.37,75.48 L455.55,76.14 L456.73,76.79 L457.91,77.45 L459.09,78.11 L460.27,78.76 L461.45,79.42 L462.63,80.08 L463.81,80.73 L464.99,81.39 L466.17,82.05 L467.35,82.70 L468.54,83.36 L469.72,84.02 L470.90,84.67 L472.08,85.33 L473.26,85.98 L474.44,86.64 L475.62,87.30 L476.80,87.95 L477.98,88.61 L479.16,89.27 L480.34,89.92 L481.52,90.58 L482.70,91.24 L483.88,91.89 L485.06,92.55 L486.25,93.21 L487.43,93.86 L488.61,94.52 L489.79,95.18 L490.97,95.83 L492.15,96.49 L493.33,97.15 L494.51,97.80 L495.69,98.46 L496.87,99.12 L498.05,99.77 L499.23,100.43 L500.41,101.09 L501.59,101.74 L502.78,102.40 L503.96,103.06 L505.14,103.71 L506.32,104.37 L507.50,105.03 L508.68,105.68 L509.86,106.34 L511.04,107.00 L512.22,107.65 L513.40,108.31 L514.58,108.97 L515.76,109.62 L516.94,110.28 L518.12,110.94 L519.30,111.59 L520.49,112.25 L521.67,112.91 L522.85,113.56 L524.03,114.22 L525.21,114.88 L526.39,115.53 L527.57,116.19 L528.75,116.85 L529.93,117.50 L531.11,118.16 L532.29,118.82 L533.47,119.47 L534.65,120.13 L535.83,120.78 L537.01,121.44 L538.20,122.10 L539.38,122.75 L540.56,123.41 L541.74,124.07 L542.92,124.72 L544.10,125.38 L545.28,126.04 L546.46,126.69 L547.64,127.35 L548.82,128.01 L550.00,128.66 L551.18,129.32 L552.36,129.98 L553.54,130.63 L554.72,131.29 L555.91,131.95 L557.09,132.60 L558.27,133.26 L559.45,133.92 L560.63,134.57 L561.81,135.23 L562.99,135.89 L564.17,136.54 L565.35,137.20 L566.53,137.86 L567.71,138.51 L568.89,139.17 L570.07,139.83 L571.25,140.48 L572.44,141.14 L573.62,141.80 L574.80,142.45 L575.98,143.11 L577.16,143.77 L578.34,144.42 L579.52,145.08 L580.70,145.74 L581.88,146.39 L583.06,147.05 L584.24,147.71 L585.42,148.36 L586.60,149.02 L587.78,149.68 L588.96,150.33 L590.15,150.99 L591.33,151.65 L592.51,152.30 L593.69,152.96 L594.87,153.62 L596.05,154.27 L597.23,154.93 L598.41,155.58 L599.59,156.24 L600.77,156.90 L601.95,157.55 L603.13,158.21 L604.31,158.87 L605.49,159.52 L606.67,160.18 L607.86,160.84 L609.04,161.49 L610.22,162.15 L611.40,162.81 L612.58,163.46 L613.76,164.12 L614.94,164.78 L616.12,165.43 L617.30,166.09 L618.48,166.75 L619.66,167.40 L620.84,168.06 L622.02,168.72 L623.20,169.37 L624.38,170.03 L625.57,170.69 L626.75,171.34 L627.93,172.00" fill="none" stroke="#228B22" stroke-width="1.4" stroke-linejoin="round"/><path d="M440.20,80.25 L441.38,80.29 L442.56,80.31 L443.74,80.31 L444.92,80.29 L446.10,80.26 L447.28,80.22 L448.46,80.16 L449.64,80.08 L450.83,80.00 L452.01,79.90 L453.19,79.80 L454.37,79.68 L455.55,79.56 L456.73,79.43 L457.91,79.29 L459.09,79.15 L460.27,79.00 L461.45,78.85 L462.63,78.70 L463.81,78.55 L464.99,78.39 L466.17,78.24 L467.35,78.09 L468.54,77.94 L469.72,77.79 L470.90,77.65 L472.08,77.51 L473.26,77.38 L474.44,77.26 L475.62,77.15 L476.80,77.04 L477.98,76.95 L479.16,76.86 L480.34,76.79 L481.52,76.74 L482.70,76.70 L483.88,76.69 L485.06,76.70 L486.25,76.73 L487.43,76.79 L488.61,76.87 L489.79,76.98 L490.97,77.12 L492.15,77.29 L493.33,77.49 L494.51,77.72 L495.69,77.98 L496.87,78.28 L498.05,78.60 L499.23,78.96 L500.41,79.34 L501.59,79.76 L502.78,80.20 L503.96,80.68 L505.14,81.19 L506.32,81.72 L507.50,82.29 L508.68,82.88 L509.86,83.51 L511.04,84.16 L512.22,84.84 L513.40,85.55 L514.58,86.29 L515.76,87.06 L516.94,87.85 L518.12,88.67 L519.30,89.52 L520.49,90.40 L521.67,91.30 L522.85,92.23 L524.03,93.19 L525.21,94.17 L526.39,95.18 L527.57,96.22 L528.75,97.28 L529.93,98.36 L531.11,99.48 L532.29,100.61 L533.47,101.77 L534.65,102.95 L535.83,104.15 L537.01,105.37 L538.20,106.61 L539.38,107.87 L540.56,109.14 L541.74,110.42 L542.92,111.72 L544.10,113.02 L545.28,114.34 L546.46,115.67 L547.64,117.00 L548.82,118.34 L550.00,119.68 L551.18,121.03 L552.36,122.38 L553.54,123.73 L554.72,125.08 L555.91,126.43 L557.09,127.77 L558.27,129.12 L559.45,130.45 L560.63,131.78 L561.81,133.10 L562.99,134.41 L564.17,135.71 L565.35,136.99 L566.53,138.27 L567.71,139.52 L568.89,140.77 L570.07,141.99 L571.25,143.20 L572.44,144.38 L573.62,145.55 L574.80,146.69 L575.98,147.81 L577.16,148.90 L578.34,149.97 L579.52,151.00 L580.70,152.01 L581.88,152.99 L583.06,153.94 L584.24,154.85 L585.42,155.73 L586.60,156.58 L587.78,157.40 L588.96,158.18 L590.15,158.93 L591.33,159.65 L592.51,160.32 L593.69,160.96 L594.87,161.56 L596.05,162.12 L597.23,162.65 L598.41,163.14 L599.59,163.59 L600.77,164.00 L601.95,164.38 L603.13,164.72 L604.31,165.03 L605.49,165.30 L606.67,165.54 L607.86,165.74 L609.04,165.90 L610.22,166.04 L611.40,166.14 L612.58,166.20 L613.76,166.23 L614.94,166.23 L616.12,166.19 L617.30,166.13 L618.48,166.03 L619.66,165.89 L620.84,165.73 L622.02,165.54 L623.20,165.31 L624.38,165.05 L625.57,164.77 L626.75,164.45 L627.93,164.10 L627.93,179.10 L626.75,179.23 L625.57,179.33 L624.38,179.40 L623.20,179.44 L622.02,179.45 L620.84,179.43 L619.66,179.38 L618.48,179.31 L617.30,179.20 L616.12,179.06 L614.94,178.89 L613.76,178.69 L612.58,178.47 L611.40,178.21 L610.22,177.93 L609.04,177.62 L607.86,177.28 L606.67,176.91 L605.49,176.52 L604.31,176.10 L603.13,175.65 L601.95,175.17 L600.77,174.66 L599.59,174.13 L598.41,173.57 L597.23,172.99 L596.05,172.38 L594.87,171.74 L593.69,171.08 L592.51,170.39 L591.33,169.67 L590.15,168.93 L588.96,168.17 L587.78,167.36 L586.60,166.53 L585.42,165.67 L584.24,164.77 L583.06,163.84 L581.88,162.88 L580.70,161.89 L579.52,160.87 L578.34,159.82 L577.16,158.74 L575.98,157.63 L574.80,156.50 L573.62,155.35 L572.44,154.17 L571.25,152.97 L570.07,151.76 L568.89,150.52 L567.71,149.27 L566.53,148.00 L565.35,146.72 L564.17,145.42 L562.99,144.11 L561.81,142.80 L560.63,141.47 L559.45,140.13 L558.27,138.79 L557.09,137.44 L555.91,136.09 L554.72,134.74 L553.54,133.38 L552.36,132.02 L551.18,130.67 L550.00,129.32 L548.82,127.97 L547.64,126.62 L546.46,125.29 L545.28,123.96 L544.10,122.64 L542.92,121.33 L541.74,120.03 L540.56,118.74 L539.38,117.47 L538.20,116.21 L537.01,114.98 L535.83,113.75 L534.65,112.55 L533.47,111.37 L532.29,110.21 L531.11,109.08 L529.93,107.97 L528.75,106.88 L527.57,105.82 L526.39,104.79 L525.21,103.78 L524.03,102.80 L522.85,101.85 L521.67,100.92 L520.49,100.02 L519.30,99.15 L518.12,98.31 L516.94,97.49 L515.76,96.70 L514.58,95.94 L513.40,95.21 L512.22,94.51 L511.04,93.84 L509.86,93.19 L508.68,92.57 L507.50,91.99 L506.32,91.43 L505.14,90.90 L503.96,90.41 L502.78,89.94 L501.59,89.50 L500.41,89.10 L499.23,88.72 L498.05,88.38 L496.87,88.07 L495.69,87.79 L494.51,87.54 L493.33,87.32 L492.15,87.13 L490.97,86.98 L489.79,86.85 L488.61,86.76 L487.43,86.69 L486.25,86.65 L485.06,86.63 L483.88,86.63 L482.70,86.66 L481.52,86.71 L480.34,86.79 L479.16,86.88 L477.98,86.99 L476.80,87.13 L475.62,87.29 L474.44,87.47 L473.26,87.67 L472.08,87.88 L470.90,88.11 L469.72,88.36 L468.54,88.62 L467.35,88.89 L466.17,89.17 L464.99,89.46 L463.81,89.75 L462.63,90.06 L461.45,90.36 L460.27,90.68 L459.09,90.99 L457.91,91.31 L456.73,91.62 L455.55,91.94 L454.37,92.25 L453.19,92.55 L452.01,92.85 L450.83,93.15 L449.64,93.43 L448.46,93.71 L447.28,93.97 L446.10,94.22 L444.92,94.46 L443.74,94.68 L442.56,94.89 L441.38,95.08 L440.20,95.25Z" fill="#87CEEB" fill-opacity="0.2"/><path d="M440.20,87.75 L441.38,87.68 L442.56,87.60 L443.74,87.50 L444.92,87.38 L446.10,87.24 L447.28,87.09 L448.46,86.93 L449.64,86.76 L450.83,86.57 L452.01,86.38 L453.19,86.17 L454.37,85.96 L455.55,85.75 L456.73,85.53 L457.91,85.30 L459.09,85.07 L460.27,84.84 L461.45,84.61 L462.63,84.38 L463.81,84.15 L464.99,83.92 L466.17,83.70 L467.35,83.49 L468.54,83.28 L469.72,83.08 L470.90,82.88 L472.08,82.70 L473.26,82.53 L474.44,82.37 L475.62,82.22 L476.80,82.09 L477.98,81.97 L479.16,81.87 L480.34,81.79 L481.52,81.73 L482.70,81.68 L483.88,81.66 L485.06,81.66 L486.25,81.69 L487.43,81.74 L488.61,81.82 L489.79,81.92 L490.97,82.05 L492.15,82.21 L493.33,82.40 L494.51,82.63 L495.69,82.88 L496.87,83.17 L498.05,83.49 L499.23,83.84 L500.41,84.22 L501.59,84.63 L502.78,85.07 L503.96,85.54 L505.14,86.05 L506.32,86.58 L507.50,87.14 L508.68,87.73 L509.86,88.35 L511.04,89.00 L512.22,89.68 L513.40,90.38 L514.58,91.12 L515.76,91.88 L516.94,92.67 L518.12,93.49 L519.30,94.34 L520.49,95.21 L521.67,96.11 L522.85,97.04 L524.03,98.00 L525.21,98.98 L526.39,99.99 L527.57,101.02 L528.75,102.08 L529.93,103.17 L531.11,104.28 L532.29,105.41 L533.47,106.57 L534.65,107.75 L535.83,108.95 L537.01,110.17 L538.20,111.41 L539.38,112.67 L540.56,113.94 L541.74,115.22 L542.92,116.52 L544.10,117.83 L545.28,119.15 L546.46,120.48 L547.64,121.81 L548.82,123.15 L550.00,124.50 L551.18,125.85 L552.36,127.20 L553.54,128.56 L554.72,129.91 L555.91,131.26 L557.09,132.61 L558.27,133.95 L559.45,135.29 L560.63,136.62 L561.81,137.95 L562.99,139.26 L564.17,140.56 L565.35,141.86 L566.53,143.13 L567.71,144.40 L568.89,145.64 L570.07,146.87 L571.25,148.09 L572.44,149.28 L573.62,150.45 L574.80,151.60 L575.98,152.72 L577.16,153.82 L578.34,154.89 L579.52,155.93 L580.70,156.95 L581.88,157.94 L583.06,158.89 L584.24,159.81 L585.42,160.70 L586.60,161.56 L587.78,162.38 L588.96,163.17 L590.15,163.93 L591.33,164.66 L592.51,165.36 L593.69,166.02 L594.87,166.65 L596.05,167.25 L597.23,167.82 L598.41,168.36 L599.59,168.86 L600.77,169.33 L601.95,169.77 L603.13,170.18 L604.31,170.56 L605.49,170.91 L606.67,171.23 L607.86,171.51 L609.04,171.76 L610.22,171.98 L611.40,172.17 L612.58,172.33 L613.76,172.46 L614.94,172.56 L616.12,172.63 L617.30,172.66 L618.48,172.67 L619.66,172.64 L620.84,172.58 L622.02,172.50 L623.20,172.38 L624.38,172.23 L625.57,172.05 L626.75,171.84 L627.93,171.60" fill="none" stroke="#87CEEB" stroke-width="1.4" stroke-linejoin="round"/><path d="M440.20,77.96 L441.38,78.61 L442.56,79.24 L443.74,79.84 L444.92,80.42 L446.10,80.97 L447.28,81.49 L448.46,81.99 L449.64,82.46 L450.83,82.91 L452.01,83.34 L453.19,83.74 L454.37,84.12 L455.55,84.48 L456.73,84.81 L457.91,85.12 L459.09,85.42 L460.27,85.69 L461.45,85.94 L462.63,86.17 L463.81,86.39 L464.99,86.58 L466.17,86.76 L467.35,86.91 L468.54,87.05 L469.72,87.18 L470.90,87.29 L472.08,87.38 L473.26,87.45 L474.44,87.51 L475.62,87.56 L476.80,87.59 L477.98,87.61 L479.16,87.61 L480.34,87.60 L481.52,87.58 L482.70,87.55 L483.88,87.52 L485.06,87.47 L486.25,87.42 L487.43,87.36 L488.61,87.29 L489.79,87.22 L490.97,87.15 L492.15,87.06 L493.33,86.98 L494.51,86.89 L495.69,86.79 L496.87,86.70 L498.05,86.61 L499.23,86.52 L500.41,86.43 L501.59,86.35 L502.78,86.28 L503.96,86.21 L505.14,86.16 L506.32,86.11 L507.50,86.08 L508.68,86.07 L509.86,86.07 L511.04,86.09 L512.22,86.13 L513.40,86.19 L514.58,86.27 L515.76,86.38 L516.94,86.51 L518.12,86.67 L519.30,86.86 L520.49,87.08 L521.67,87.34 L522.85,87.62 L524.03,87.94 L525.21,88.30 L526.39,88.70 L527.57,89.14 L528.75,89.61 L529.93,90.13 L531.11,90.70 L532.29,91.31 L533.47,91.97 L534.65,92.68 L535.83,93.44 L537.01,94.25 L538.20,95.12 L539.38,96.04 L540.56,97.01 L541.74,98.03 L542.92,99.09 L544.10,100.20 L545.28,101.35 L546.46,102.54 L547.64,103.76 L548.82,105.02 L550.00,106.32 L551.18,107.64 L552.36,108.99 L553.54,110.37 L554.72,111.77 L555.91,113.20 L557.09,114.64 L558.27,116.10 L559.45,117.58 L560.63,119.06 L561.81,120.56 L562.99,122.07 L564.17,123.58 L565.35,125.10 L566.53,126.61 L567.71,128.13 L568.89,129.64 L570.07,131.15 L571.25,132.65 L572.44,134.14 L573.62,135.62 L574.80,137.09 L575.98,138.53 L577.16,139.96 L578.34,141.37 L579.52,142.76 L580.70,144.12 L581.88,145.45 L583.06,146.76 L584.24,148.03 L585.42,149.27 L586.60,150.48 L587.78,151.66 L588.96,152.81 L590.15,153.93 L591.33,155.01 L592.51,156.05 L593.69,157.06 L594.87,158.02 L596.05,158.95 L597.23,159.84 L598.41,160.70 L599.59,161.51 L600.77,162.30 L601.95,163.04 L603.13,163.75 L604.31,164.43 L605.49,165.07 L606.67,165.68 L607.86,166.25 L609.04,166.80 L610.22,167.31 L611.40,167.78 L612.58,168.23 L613.76,168.64 L614.94,169.03 L616.12,169.38 L617.30,169.70 L618.48,169.99 L619.66,170.26 L620.84,170.50 L622.02,170.70 L623.20,170.88 L624.38,171.04 L625.57,171.16 L626.75,171.26 L627.93,171.33 L627.93,189.33 L626.75,188.96 L625.57,188.56 L624.38,188.13 L623.20,187.67 L622.02,187.19 L620.84,186.68 L619.66,186.15 L618.48,185.59 L617.30,185.00 L616.12,184.39 L614.94,183.76 L613.76,183.10 L612.58,182.41 L611.40,181.70 L610.22,180.96 L609.04,180.21 L607.86,179.42 L606.67,178.62 L605.49,177.78 L604.31,176.93 L603.13,176.05 L601.95,175.15 L600.77,174.23 L599.59,173.28 L598.41,172.32 L597.23,171.33 L596.05,170.31 L594.87,169.28 L593.69,168.22 L592.51,167.15 L591.33,166.05 L590.15,164.93 L588.96,163.79 L587.78,162.61 L586.60,161.41 L585.42,160.17 L584.24,158.91 L583.06,157.62 L581.88,156.29 L580.70,154.94 L579.52,153.56 L578.34,152.15 L577.16,150.72 L575.98,149.27 L574.80,147.80 L573.62,146.32 L572.44,144.82 L571.25,143.32 L570.07,141.80 L568.89,140.27 L567.71,138.75 L566.53,137.21 L565.35,135.68 L564.17,134.15 L562.99,132.63 L561.81,131.11 L560.63,129.60 L559.45,128.10 L558.27,126.61 L557.09,125.14 L555.91,123.69 L554.72,122.26 L553.54,120.84 L552.36,119.46 L551.18,118.10 L550.00,116.77 L548.82,115.46 L547.64,114.20 L546.46,112.97 L545.28,111.77 L544.10,110.62 L542.92,109.50 L541.74,108.44 L540.56,107.42 L539.38,106.44 L538.20,105.52 L537.01,104.65 L535.83,103.84 L534.65,103.08 L533.47,102.37 L532.29,101.71 L531.11,101.10 L529.93,100.54 L528.75,100.02 L527.57,99.55 L526.39,99.11 L525.21,98.72 L524.03,98.37 L522.85,98.05 L521.67,97.77 L520.49,97.53 L519.30,97.31 L518.12,97.13 L516.94,96.98 L515.76,96.86 L514.58,96.76 L513.40,96.69 L512.22,96.64 L511.04,96.61 L509.86,96.60 L508.68,96.61 L507.50,96.64 L506.32,96.69 L505.14,96.74 L503.96,96.81 L502.78,96.89 L501.59,96.98 L500.41,97.08 L499.23,97.18 L498.05,97.29 L496.87,97.40 L495.69,97.51 L494.51,97.62 L493.33,97.73 L492.15,97.84 L490.97,97.94 L489.79,98.04 L488.61,98.13 L487.43,98.22 L486.25,98.30 L485.06,98.37 L483.88,98.44 L482.70,98.50 L481.52,98.55 L480.34,98.60 L479.16,98.63 L477.98,98.66 L476.80,98.67 L475.62,98.68 L474.44,98.69 L473.26,98.68 L472.08,98.66 L470.90,98.63 L469.72,98.59 L468.54,98.53 L467.35,98.47 L466.17,98.39 L464.99,98.29 L463.81,98.18 L462.63,98.06 L461.45,97.92 L460.27,97.76 L459.09,97.59 L457.91,97.40 L456.73,97.19 L455.55,96.96 L454.37,96.71 L453.19,96.44 L452.01,96.15 L450.83,95.84 L449.64,95.50 L448.46,95.15 L447.28,94.77 L446.10,94.36 L444.92,93.93 L443.74,93.48 L442.56,93.00 L441.38,92.49 L440.20,91.96Z" fill="#FFA500" fill-opacity="0.2"/><path d="M440.20,84.96 L441.38,85.55 L442.56,86.12 L443.74,86.66 L444.92,87.18 L446.10,87.66 L447.28,88.13 L448.46,88.57 L449.64,88.98 L450.83,89.37 L452.01,89.74 L453.19,90.09 L454.37,90.41 L455.55,90.72 L456.73,91.00 L457.91,91.26 L459.09,91.50 L460.27,91.73 L461.45,91.93 L462.63,92.12 L463.81,92.29 L464.99,92.44 L466.17,92.57 L467.35,92.69 L468.54,92.79 L469.72,92.88 L470.90,92.96 L472.08,93.02 L473.26,93.06 L474.44,93.10 L475.62,93.12 L476.80,93.13 L477.98,93.13 L479.16,93.12 L480.34,93.10 L481.52,93.07 L482.70,93.03 L483.88,92.98 L485.06,92.92 L486.25,92.86 L487.43,92.79 L488.61,92.71 L489.79,92.63 L490.97,92.54 L492.15,92.45 L493.33,92.35 L494.51,92.25 L495.69,92.15 L496.87,92.05 L498.05,91.95 L499.23,91.85 L500.41,91.76 L501.59,91.67 L502.78,91.58 L503.96,91.51 L505.14,91.45 L506.32,91.40 L507.50,91.36 L508.68,91.34 L509.86,91.34 L511.04,91.35 L512.22,91.38 L513.40,91.44 L514.58,91.52 L515.76,91.62 L516.94,91.75 L518.12,91.90 L519.30,92.09 L520.49,92.31 L521.67,92.55 L522.85,92.84 L524.03,93.16 L525.21,93.51 L526.39,93.91 L527.57,94.34 L528.75,94.82 L529.93,95.34 L531.11,95.90 L532.29,96.51 L533.47,97.17 L534.65,97.88 L535.83,98.64 L537.01,99.45 L538.20,100.32 L539.38,101.24 L540.56,102.21 L541.74,103.23 L542.92,104.30 L544.10,105.41 L545.28,106.56 L546.46,107.75 L547.64,108.98 L548.82,110.24 L550.00,111.54 L551.18,112.87 L552.36,114.23 L553.54,115.61 L554.72,117.01 L555.91,118.44 L557.09,119.89 L558.27,121.36 L559.45,122.84 L560.63,124.33 L561.81,125.84 L562.99,127.35 L564.17,128.87 L565.35,130.39 L566.53,131.91 L567.71,133.44 L568.89,134.96 L570.07,136.47 L571.25,137.98 L572.44,139.48 L573.62,140.97 L574.80,142.44 L575.98,143.90 L577.16,145.34 L578.34,146.76 L579.52,148.16 L580.70,149.53 L581.88,150.87 L583.06,152.19 L584.24,153.47 L585.42,154.72 L586.60,155.94 L587.78,157.14 L588.96,158.30 L590.15,159.43 L591.33,160.53 L592.51,161.60 L593.69,162.64 L594.87,163.65 L596.05,164.63 L597.23,165.58 L598.41,166.51 L599.59,167.40 L600.77,168.26 L601.95,169.10 L603.13,169.90 L604.31,170.68 L605.49,171.43 L606.67,172.15 L607.86,172.84 L609.04,173.50 L610.22,174.13 L611.40,174.74 L612.58,175.32 L613.76,175.87 L614.94,176.39 L616.12,176.89 L617.30,177.35 L618.48,177.79 L619.66,178.20 L620.84,178.59 L622.02,178.95 L623.20,179.28 L624.38,179.58 L625.57,179.86 L626.75,180.11 L627.93,180.33" fill="none" stroke="#FFA500" stroke-width="1.4" stroke-linejoin="round"/><circle cx="54.59" cy="373.18" r="4.1" fill="#87CEEB" fill-opacity="0.72"/><circle cx="78.06" cy="370.88" r="4.1" fill="#87CEEB" fill-opacity="0.72"/><circle cx="101.53" cy="397.69" r="4.1" fill="#87CEEB" fill-opacity="0.72"/><circle cx="125.00" cy="393.09" r="4.1" fill="#87CEEB" fill-opacity="0.72"/><circle cx="148.46" cy="422.20" r="4.1" fill="#87CEEB" fill-opacity="0.72"/><circle cx="171.93" cy="422.20" r="4.1" fill="#87CEEB" fill-opacity="0.72"/><circle cx="195.40" cy="336.41" r="4.1" fill="#87CEEB" fill-opacity="0.72"/><circle cx="218.87" cy="365.90" r="4.1" fill="#87CEEB" fill-opacity="0.72"/><circle cx="242.34" cy="334.49" r="4.1" fill="#87CEEB" fill-opacity="0.72"/><circle cx="265.81" cy="348.28" r="4.1" fill="#87CEEB" fill-opacity="0.72"/><circle cx="289.28" cy="323.77" r="4.1" fill="#87CEEB" fill-opacity="0.72"/><circle cx="312.75" cy="301.94" r="4.1" fill="#87CEEB" fill-opacity="0.72"/><circle cx="54.59" cy="324.15" r="4.1" fill="#FFA500" fill-opacity="0.72"/><circle cx="78.06" cy="338.71" r="4.1" fill="#FFA500" fill-opacity="0.72"/><circle cx="101.53" cy="346.75" r="4.1" fill="#FFA500" fill-opacity="0.72"/><circle cx="125.00" cy="339.47" r="4.1" fill="#FFA500" fill-opacity="0.72"/><circle cx="148.46" cy="334.11" r="4.1" fill="#FFA500" fill-opacity="0.72"/><circle cx="171.93" cy="314.58" r="4.1" fill="#FFA500" fill-opacity="0.72"/><circle cx="195.40" cy="360.15" r="4.1" fill="#FFA500" fill-opacity="0.72"/><circle cx="218.87" cy="405.73" r="4.1" fill="#FFA500" fill-opacity="0.72"/><circle cx="242.34" cy="391.18" r="4.1" fill="#FFA500" fill-opacity="0.72"/><circle cx="265.81" cy="398.07" r="4.1" fill="#FFA500" fill-opacity="0.72"/><circle cx="289.28" cy="420.29" r="4.1" fill="#FFA500" fill-opacity="0.72"/><circle cx="312.75" cy="417.22" r="4.1" fill="#FFA500" fill-opacity="0.72"/><path d="M54.59,342.44 L56.21,343.80 L57.84,345.13 L59.46,346.43 L61.08,347.72 L62.71,348.97 L64.33,350.20 L65.95,351.39 L67.58,352.55 L69.20,353.68 L70.82,354.77 L72.45,355.83 L74.07,356.84 L75.70,357.84 L77.32,358.82 L78.94,359.78 L80.57,360.73 L82.19,361.65 L83.81,362.54 L85.44,363.41 L87.06,364.25 L88.68,365.07 L90.31,365.85 L91.93,366.60 L93.56,367.31 L95.18,367.99 L96.80,368.63 L98.43,369.23 L100.05,369.79 L101.67,370.30 L103.30,370.79 L104.92,371.25 L106.55,371.68 L108.17,372.09 L109.79,372.48 L111.42,372.84 L113.04,373.18 L114.66,373.49 L116.29,373.78 L117.91,374.05 L119.53,374.30 L121.16,374.53 L122.78,374.74 L124.41,374.92 L126.03,375.09 L127.65,375.23 L129.28,375.36 L130.90,375.47 L132.52,375.56 L134.15,375.63 L135.77,375.69 L137.39,375.72 L139.02,375.72 L140.64,375.71 L142.27,375.66 L143.89,375.58 L145.51,375.48 L147.14,375.33 L148.76,375.16 L150.38,374.94 L152.01,374.69 L153.63,374.41 L155.25,374.11 L156.88,373.77 L158.50,373.40 L160.13,373.01 L161.75,372.60 L163.37,372.16 L165.00,371.70 L166.62,371.22 L168.24,370.71 L169.87,370.19 L171.49,369.66 L173.11,369.10 L174.74,368.53 L176.36,367.95 L177.99,367.34 L179.61,366.72 L181.23,366.08 L182.86,365.41 L184.48,364.72 L186.10,364.01 L187.73,363.27 L189.35,362.51 L190.97,361.72 L192.60,360.91 L194.22,360.07 L195.85,359.20 L197.47,358.32 L199.09,357.40 L200.72,356.46 L202.34,355.49 L203.96,354.50 L205.59,353.49 L207.21,352.45 L208.83,351.39 L210.46,350.31 L212.08,349.21 L213.71,348.10 L215.33,346.97 L216.95,345.84 L218.58,344.69 L220.20,343.53 L221.82,342.37 L223.45,341.20 L225.07,340.03 L226.69,338.86 L228.32,337.69 L229.94,336.52 L231.57,335.35 L233.19,334.18 L234.81,333.01 L236.44,331.84 L238.06,330.67 L239.68,329.51 L241.31,328.35 L242.93,327.19 L244.55,326.04 L246.18,324.90 L247.80,323.75 L249.43,322.62 L251.05,321.48 L252.67,320.34 L254.30,319.20 L255.92,318.05 L257.54,316.90 L259.17,315.75 L260.79,314.61 L262.41,313.46 L264.04,312.31 L265.66,311.16 L267.29,310.02 L268.91,308.88 L270.53,307.74 L272.16,306.60 L273.78,305.47 L275.40,304.34 L277.03,303.21 L278.65,302.08 L280.27,300.94 L281.90,299.79 L283.52,298.64 L285.15,297.48 L286.77,296.31 L288.39,295.13 L290.02,293.94 L291.64,292.72 L293.26,291.49 L294.89,290.23 L296.51,288.95 L298.13,287.64 L299.76,286.32 L301.38,284.98 L303.01,283.62 L304.63,282.23 L306.25,280.84 L307.88,279.42 L309.50,277.99 L311.12,276.55 L312.75,275.09 L312.75,340.47 L311.12,340.76 L309.50,341.06 L307.88,341.38 L306.25,341.71 L304.63,342.06 L303.01,342.42 L301.38,342.81 L299.76,343.22 L298.13,343.65 L296.51,344.10 L294.89,344.58 L293.26,345.09 L291.64,345.62 L290.02,346.19 L288.39,346.77 L286.77,347.38 L285.15,348.00 L283.52,348.64 L281.90,349.29 L280.27,349.96 L278.65,350.64 L277.03,351.34 L275.40,352.05 L273.78,352.76 L272.16,353.49 L270.53,354.22 L268.91,354.96 L267.29,355.71 L265.66,356.46 L264.04,357.23 L262.41,358.00 L260.79,358.79 L259.17,359.59 L257.54,360.40 L255.92,361.23 L254.30,362.08 L252.67,362.94 L251.05,363.82 L249.43,364.72 L247.80,365.63 L246.18,366.56 L244.55,367.50 L242.93,368.45 L241.31,369.42 L239.68,370.39 L238.06,371.39 L236.44,372.39 L234.81,373.41 L233.19,374.43 L231.57,375.47 L229.94,376.51 L228.32,377.56 L226.69,378.61 L225.07,379.66 L223.45,380.71 L221.82,381.75 L220.20,382.80 L218.58,383.84 L216.95,384.88 L215.33,385.92 L213.71,386.96 L212.08,388.00 L210.46,389.03 L208.83,390.05 L207.21,391.07 L205.59,392.09 L203.96,393.10 L202.34,394.11 L200.72,395.11 L199.09,396.10 L197.47,397.08 L195.85,398.05 L194.22,399.00 L192.60,399.93 L190.97,400.85 L189.35,401.74 L187.73,402.61 L186.10,403.45 L184.48,404.27 L182.86,405.05 L181.23,405.81 L179.61,406.53 L177.99,407.22 L176.36,407.88 L174.74,408.51 L173.11,409.10 L171.49,409.65 L169.87,410.18 L168.24,410.66 L166.62,411.12 L165.00,411.55 L163.37,411.95 L161.75,412.33 L160.13,412.67 L158.50,413.00 L156.88,413.31 L155.25,413.59 L153.63,413.86 L152.01,414.11 L150.38,414.34 L148.76,414.57 L147.14,414.78 L145.51,414.99 L143.89,415.18 L142.27,415.36 L140.64,415.53 L139.02,415.68 L137.39,415.82 L135.77,415.93 L134.15,416.03 L132.52,416.10 L130.90,416.15 L129.28,416.18 L127.65,416.18 L126.03,416.16 L124.41,416.12 L122.78,416.06 L121.16,415.98 L119.53,415.89 L117.91,415.77 L116.29,415.64 L114.66,415.50 L113.04,415.34 L111.42,415.16 L109.79,414.97 L108.17,414.77 L106.55,414.55 L104.92,414.33 L103.30,414.09 L101.67,413.85 L100.05,413.60 L98.43,413.36 L96.80,413.12 L95.18,412.89 L93.56,412.67 L91.93,412.45 L90.31,412.23 L88.68,412.02 L87.06,411.80 L85.44,411.58 L83.81,411.35 L82.19,411.12 L80.57,410.89 L78.94,410.64 L77.32,410.39 L75.70,410.13 L74.07,409.85 L72.45,409.57 L70.82,409.29 L69.20,409.02 L67.58,408.76 L65.95,408.51 L64.33,408.27 L62.71,408.03 L61.08,407.79 L59.46,407.55 L57.84,407.32 L56.21,407.08 L54.59,406.84Z" fill="#87CEEB" fill-opacity="0.2"/><path d="M54.59,374.64 L56.21,375.44 L57.84,376.22 L59.46,376.99 L61.08,377.75 L62.71,378.50 L64.33,379.23 L65.95,379.95 L67.58,380.66 L69.20,381.35 L70.82,382.03 L72.45,382.70 L74.07,383.35 L75.70,383.98 L77.32,384.61 L78.94,385.21 L80.57,385.81 L82.19,386.39 L83.81,386.95 L85.44,387.49 L87.06,388.03 L88.68,388.54 L90.31,389.04 L91.93,389.52 L93.56,389.99 L95.18,390.44 L96.80,390.88 L98.43,391.29 L100.05,391.69 L101.67,392.08 L103.30,392.44 L104.92,392.79 L106.55,393.12 L108.17,393.43 L109.79,393.72 L111.42,394.00 L113.04,394.26 L114.66,394.49 L116.29,394.71 L117.91,394.91 L119.53,395.10 L121.16,395.26 L122.78,395.40 L124.41,395.52 L126.03,395.62 L127.65,395.71 L129.28,395.77 L130.90,395.81 L132.52,395.83 L134.15,395.83 L135.77,395.81 L137.39,395.77 L139.02,395.70 L140.64,395.62 L142.27,395.51 L143.89,395.38 L145.51,395.23 L147.14,395.06 L148.76,394.86 L150.38,394.64 L152.01,394.40 L153.63,394.14 L155.25,393.85 L156.88,393.54 L158.50,393.20 L160.13,392.84 L161.75,392.46 L163.37,392.06 L165.00,391.62 L166.62,391.17 L168.24,390.69 L169.87,390.18 L171.49,389.65 L173.11,389.10 L174.74,388.52 L176.36,387.91 L177.99,387.28 L179.61,386.62 L181.23,385.94 L182.86,385.23 L184.48,384.49 L186.10,383.73 L187.73,382.94 L189.35,382.13 L190.97,381.29 L192.60,380.42 L194.22,379.53 L195.85,378.63 L197.47,377.70 L199.09,376.75 L200.72,375.78 L202.34,374.80 L203.96,373.80 L205.59,372.79 L207.21,371.76 L208.83,370.72 L210.46,369.67 L212.08,368.60 L213.71,367.53 L215.33,366.45 L216.95,365.36 L218.58,364.27 L220.20,363.17 L221.82,362.06 L223.45,360.95 L225.07,359.85 L226.69,358.73 L228.32,357.62 L229.94,356.52 L231.57,355.41 L233.19,354.31 L234.81,353.21 L236.44,352.12 L238.06,351.03 L239.68,349.95 L241.31,348.88 L242.93,347.82 L244.55,346.77 L246.18,345.73 L247.80,344.69 L249.43,343.67 L251.05,342.65 L252.67,341.64 L254.30,340.64 L255.92,339.64 L257.54,338.65 L259.17,337.67 L260.79,336.70 L262.41,335.73 L264.04,334.77 L265.66,333.81 L267.29,332.86 L268.91,331.92 L270.53,330.98 L272.16,330.05 L273.78,329.12 L275.40,328.19 L277.03,327.27 L278.65,326.36 L280.27,325.45 L281.90,324.54 L283.52,323.64 L285.15,322.74 L286.77,321.84 L288.39,320.95 L290.02,320.06 L291.64,319.17 L293.26,318.29 L294.89,317.41 L296.51,316.53 L298.13,315.65 L299.76,314.77 L301.38,313.89 L303.01,313.02 L304.63,312.14 L306.25,311.27 L307.88,310.40 L309.50,309.53 L311.12,308.65 L312.75,307.78" fill="none" stroke="#87CEEB" stroke-width="1.4" stroke-linejoin="round"/><path d="M54.59,301.50 L56.21,302.02 L57.84,302.54 L59.46,303.06 L61.08,303.59 L62.71,304.12 L64.33,304.65 L65.95,305.20 L67.58,305.74 L69.20,306.29 L70.82,306.84 L72.45,307.40 L74.07,307.97 L75.70,308.57 L77.32,309.19 L78.94,309.84 L80.57,310.51 L82.19,311.18 L83.81,311.87 L85.44,312.56 L87.06,313.24 L88.68,313.91 L90.31,314.57 L91.93,315.21 L93.56,315.83 L95.18,316.42 L96.80,316.97 L98.43,317.49 L100.05,317.96 L101.67,318.37 L103.30,318.78 L104.92,319.17 L106.55,319.57 L108.17,319.96 L109.79,320.35 L111.42,320.74 L113.04,321.13 L114.66,321.51 L116.29,321.90 L117.91,322.29 L119.53,322.67 L121.16,323.06 L122.78,323.45 L124.41,323.85 L126.03,324.24 L127.65,324.64 L129.28,325.05 L130.90,325.45 L132.52,325.86 L134.15,326.27 L135.77,326.68 L137.39,327.09 L139.02,327.51 L140.64,327.93 L142.27,328.36 L143.89,328.79 L145.51,329.23 L147.14,329.68 L148.76,330.14 L150.38,330.61 L152.01,331.10 L153.63,331.61 L155.25,332.14 L156.88,332.68 L158.50,333.24 L160.13,333.82 L161.75,334.40 L163.37,335.00 L165.00,335.60 L166.62,336.22 L168.24,336.83 L169.87,337.45 L171.49,338.08 L173.11,338.70 L174.74,339.34 L176.36,340.00 L177.99,340.68 L179.61,341.37 L181.23,342.09 L182.86,342.82 L184.48,343.58 L186.10,344.36 L187.73,345.16 L189.35,345.98 L190.97,346.82 L192.60,347.69 L194.22,348.57 L195.85,349.47 L197.47,350.38 L199.09,351.30 L200.72,352.23 L202.34,353.17 L203.96,354.11 L205.59,355.06 L207.21,356.00 L208.83,356.95 L210.46,357.89 L212.08,358.82 L213.71,359.74 L215.33,360.66 L216.95,361.56 L218.58,362.45 L220.20,363.32 L221.82,364.17 L223.45,365.01 L225.07,365.83 L226.69,366.64 L228.32,367.43 L229.94,368.22 L231.57,368.99 L233.19,369.76 L234.81,370.52 L236.44,371.28 L238.06,372.04 L239.68,372.79 L241.31,373.55 L242.93,374.30 L244.55,375.06 L246.18,375.81 L247.80,376.57 L249.43,377.33 L251.05,378.08 L252.67,378.84 L254.30,379.59 L255.92,380.35 L257.54,381.10 L259.17,381.86 L260.79,382.61 L262.41,383.37 L264.04,384.12 L265.66,384.87 L267.29,385.63 L268.91,386.38 L270.53,387.13 L272.16,387.83 L273.78,388.47 L275.40,389.05 L277.03,389.59 L278.65,390.09 L280.27,390.56 L281.90,391.01 L283.52,391.45 L285.15,391.88 L286.77,392.30 L288.39,392.74 L290.02,393.20 L291.64,393.67 L293.26,394.13 L294.89,394.58 L296.51,395.03 L298.13,395.46 L299.76,395.89 L301.38,396.30 L303.01,396.72 L304.63,397.12 L306.25,397.52 L307.88,397.91 L309.50,398.30 L311.12,398.68 L312.75,399.06 L312.75,447.62 L311.12,446.20 L309.50,444.80 L307.88,443.41 L306.25,442.04 L304.63,440.68 L303.01,439.34 L301.38,438.02 L299.76,436.71 L298.13,435.42 L296.51,434.15 L294.89,432.89 L293.26,431.65 L291.64,430.43 L290.02,429.23 L288.39,428.02 L286.77,426.80 L285.15,425.57 L283.52,424.36 L281.90,423.15 L280.27,421.97 L278.65,420.82 L277.03,419.70 L275.40,418.63 L273.78,417.60 L272.16,416.64 L270.53,415.75 L268.91,414.91 L267.29,414.07 L265.66,413.24 L264.04,412.42 L262.41,411.60 L260.79,410.78 L259.17,409.97 L257.54,409.16 L255.92,408.36 L254.30,407.56 L252.67,406.77 L251.05,405.97 L249.43,405.18 L247.80,404.39 L246.18,403.61 L244.55,402.82 L242.93,402.04 L241.31,401.26 L239.68,400.47 L238.06,399.69 L236.44,398.91 L234.81,398.12 L233.19,397.33 L231.57,396.53 L229.94,395.73 L228.32,394.91 L226.69,394.09 L225.07,393.25 L223.45,392.40 L221.82,391.54 L220.20,390.66 L218.58,389.76 L216.95,388.85 L215.33,387.93 L213.71,387.00 L212.08,386.06 L210.46,385.11 L208.83,384.16 L207.21,383.21 L205.59,382.26 L203.96,381.31 L202.34,380.37 L200.72,379.43 L199.09,378.51 L197.47,377.59 L195.85,376.68 L194.22,375.79 L192.60,374.92 L190.97,374.06 L189.35,373.22 L187.73,372.41 L186.10,371.62 L184.48,370.86 L182.86,370.11 L181.23,369.39 L179.61,368.69 L177.99,368.01 L176.36,367.35 L174.74,366.71 L173.11,366.09 L171.49,365.49 L169.87,364.92 L168.24,364.38 L166.62,363.86 L165.00,363.38 L163.37,362.91 L161.75,362.46 L160.13,362.03 L158.50,361.61 L156.88,361.20 L155.25,360.79 L153.63,360.39 L152.01,359.99 L150.38,359.59 L148.76,359.19 L147.14,358.79 L145.51,358.39 L143.89,358.00 L142.27,357.61 L140.64,357.22 L139.02,356.84 L137.39,356.46 L135.77,356.09 L134.15,355.72 L132.52,355.36 L130.90,355.01 L129.28,354.66 L127.65,354.31 L126.03,353.97 L124.41,353.63 L122.78,353.29 L121.16,352.96 L119.53,352.63 L117.91,352.30 L116.29,351.98 L114.66,351.67 L113.04,351.35 L111.42,351.05 L109.79,350.75 L108.17,350.45 L106.55,350.17 L104.92,349.89 L103.30,349.61 L101.67,349.34 L100.05,349.10 L98.43,348.90 L96.80,348.76 L95.18,348.65 L93.56,348.59 L91.93,348.55 L90.31,348.54 L88.68,348.55 L87.06,348.58 L85.44,348.62 L83.81,348.66 L82.19,348.70 L80.57,348.73 L78.94,348.76 L77.32,348.76 L75.70,348.75 L74.07,348.70 L72.45,348.63 L70.82,348.54 L69.20,348.45 L67.58,348.35 L65.95,348.25 L64.33,348.15 L62.71,348.03 L61.08,347.91 L59.46,347.79 L57.84,347.65 L56.21,347.52 L54.59,347.37Z" fill="#FFA500" fill-opacity="0.2"/><path d="M54.59,324.44 L56.21,324.77 L57.84,325.09 L59.46,325.42 L61.08,325.75 L62.71,326.08 L64.33,326.40 L65.95,326.72 L67.58,327.05 L69.20,327.37 L70.82,327.69 L72.45,328.01 L74.07,328.34 L75.70,328.66 L77.32,328.98 L78.94,329.30 L80.57,329.62 L82.19,329.94 L83.81,330.26 L85.44,330.59 L87.06,330.91 L88.68,331.23 L90.31,331.56 L91.93,331.88 L93.56,332.21 L95.18,332.54 L96.80,332.86 L98.43,333.19 L100.05,333.53 L101.67,333.86 L103.30,334.19 L104.92,334.53 L106.55,334.87 L108.17,335.21 L109.79,335.55 L111.42,335.89 L113.04,336.24 L114.66,336.59 L116.29,336.94 L117.91,337.29 L119.53,337.65 L121.16,338.01 L122.78,338.37 L124.41,338.74 L126.03,339.10 L127.65,339.48 L129.28,339.85 L130.90,340.23 L132.52,340.61 L134.15,341.00 L135.77,341.39 L137.39,341.78 L139.02,342.18 L140.64,342.58 L142.27,342.98 L143.89,343.39 L145.51,343.81 L147.14,344.23 L148.76,344.66 L150.38,345.10 L152.01,345.55 L153.63,346.00 L155.25,346.46 L156.88,346.94 L158.50,347.43 L160.13,347.92 L161.75,348.43 L163.37,348.95 L165.00,349.49 L166.62,350.04 L168.24,350.61 L169.87,351.19 L171.49,351.78 L173.11,352.40 L174.74,353.03 L176.36,353.68 L177.99,354.34 L179.61,355.03 L181.23,355.74 L182.86,356.47 L184.48,357.22 L186.10,357.99 L187.73,358.78 L189.35,359.60 L190.97,360.44 L192.60,361.30 L194.22,362.18 L195.85,363.07 L197.47,363.98 L199.09,364.90 L200.72,365.83 L202.34,366.77 L203.96,367.71 L205.59,368.66 L207.21,369.61 L208.83,370.55 L210.46,371.50 L212.08,372.44 L213.71,373.37 L215.33,374.29 L216.95,375.21 L218.58,376.11 L220.20,376.99 L221.82,377.86 L223.45,378.71 L225.07,379.54 L226.69,380.36 L228.32,381.17 L229.94,381.97 L231.57,382.76 L233.19,383.55 L234.81,384.32 L236.44,385.10 L238.06,385.87 L239.68,386.63 L241.31,387.40 L242.93,388.17 L244.55,388.94 L246.18,389.71 L247.80,390.48 L249.43,391.25 L251.05,392.03 L252.67,392.80 L254.30,393.58 L255.92,394.36 L257.54,395.13 L259.17,395.92 L260.79,396.70 L262.41,397.48 L264.04,398.27 L265.66,399.06 L267.29,399.85 L268.91,400.64 L270.53,401.44 L272.16,402.23 L273.78,403.04 L275.40,403.84 L277.03,404.65 L278.65,405.45 L280.27,406.27 L281.90,407.08 L283.52,407.90 L285.15,408.72 L286.77,409.55 L288.39,410.38 L290.02,411.21 L291.64,412.05 L293.26,412.89 L294.89,413.74 L296.51,414.59 L298.13,415.44 L299.76,416.30 L301.38,417.16 L303.01,418.03 L304.63,418.90 L306.25,419.78 L307.88,420.66 L309.50,421.55 L311.12,422.44 L312.75,423.34" fill="none" stroke="#FFA500" stroke-width="1.4" stroke-linejoin="round"/><circle cx="440.20" cy="393.86" r="4.1" fill="#87CEEB" fill-opacity="0.72"/><circle cx="463.67" cy="412.24" r="4.1" fill="#87CEEB" fill-opacity="0.72"/><circle cx="487.13" cy="303.09" r="4.1" fill="#87CEEB" fill-opacity="0.72"/><circle cx="510.60" cy="321.09" r="4.1" fill="#87CEEB" fill-opacity="0.72"/><circle cx="534.06" cy="395.39" r="4.1" fill="#87CEEB" fill-opacity="0.72"/><circle cx="557.53" cy="374.33" r="4.1" fill="#87CEEB" fill-opacity="0.72"/><circle cx="581.00" cy="384.67" r="4.1" fill="#87CEEB" fill-opacity="0.72"/><circle cx="604.46" cy="379.69" r="4.1" fill="#87CEEB" fill-opacity="0.72"/><circle cx="627.93" cy="329.13" r="4.1" fill="#87CEEB" fill-opacity="0.72"/><circle cx="440.20" cy="350.96" r="4.1" fill="#FFA500" fill-opacity="0.72"/><circle cx="463.67" cy="383.13" r="4.1" fill="#FFA500" fill-opacity="0.72"/><circle cx="487.13" cy="346.37" r="4.1" fill="#FFA500" fill-opacity="0.72"/><circle cx="510.60" cy="331.05" r="4.1" fill="#FFA500" fill-opacity="0.72"/><circle cx="534.06" cy="327.60" r="4.1" fill="#FFA500" fill-opacity="0.72"/><circle cx="557.53" cy="328.37" r="4.1" fill="#FFA500" fill-opacity="0.72"/><circle cx="581.00" cy="382.75" r="4.1" fill="#FFA500" fill-opacity="0.72"/><circle cx="604.46" cy="410.71" r="4.1" fill="#FFA500" fill-opacity="0.72"/><circle cx="627.93" cy="432.16" r="4.1" fill="#FFA500" fill-opacity="0.72"/><path d="M440.20,327.20 L441.38,327.51 L442.56,327.82 L443.74,328.13 L444.92,328.44 L446.10,328.74 L447.28,329.04 L448.46,329.34 L449.64,329.64 L450.83,329.94 L452.01,330.23 L453.19,330.52 L454.37,330.81 L455.55,331.09 L456.73,331.38 L457.91,331.66 L459.09,331.95 L460.27,332.22 L461.45,332.50 L462.63,332.78 L463.81,333.05 L464.99,333.31 L466.17,333.58 L467.35,333.84 L468.54,334.09 L469.72,334.35 L470.90,334.60 L472.08,334.85 L473.26,335.10 L474.44,335.35 L475.62,335.59 L476.80,335.82 L477.98,336.05 L479.16,336.28 L480.34,336.50 L481.52,336.71 L482.70,336.93 L483.88,337.14 L485.06,337.35 L486.25,337.55 L487.43,337.75 L488.61,337.94 L489.79,338.13 L490.97,338.31 L492.15,338.49 L493.33,338.65 L494.51,338.81 L495.69,338.97 L496.87,339.12 L498.05,339.27 L499.23,339.42 L500.41,339.55 L501.59,339.69 L502.78,339.81 L503.96,339.92 L505.14,340.03 L506.32,340.12 L507.50,340.20 L508.68,340.28 L509.86,340.35 L511.04,340.43 L512.22,340.49 L513.40,340.56 L514.58,340.61 L515.76,340.65 L516.94,340.68 L518.12,340.69 L519.30,340.69 L520.49,340.67 L521.67,340.63 L522.85,340.60 L524.03,340.56 L525.21,340.51 L526.39,340.47 L527.57,340.41 L528.75,340.35 L529.93,340.28 L531.11,340.20 L532.29,340.11 L533.47,340.01 L534.65,339.89 L535.83,339.76 L537.01,339.61 L538.20,339.45 L539.38,339.28 L540.56,339.11 L541.74,338.92 L542.92,338.73 L544.10,338.54 L545.28,338.34 L546.46,338.14 L547.64,337.93 L548.82,337.72 L550.00,337.48 L551.18,337.23 L552.36,336.97 L553.54,336.69 L554.72,336.40 L555.91,336.10 L557.09,335.79 L558.27,335.48 L559.45,335.17 L560.63,334.85 L561.81,334.53 L562.99,334.20 L564.17,333.86 L565.35,333.51 L566.53,333.15 L567.71,332.78 L568.89,332.40 L570.07,332.02 L571.25,331.63 L572.44,331.24 L573.62,330.85 L574.80,330.45 L575.98,330.05 L577.16,329.64 L578.34,329.22 L579.52,328.79 L580.70,328.36 L581.88,327.92 L583.06,327.48 L584.24,327.04 L585.42,326.59 L586.60,326.14 L587.78,325.68 L588.96,325.22 L590.15,324.76 L591.33,324.29 L592.51,323.82 L593.69,323.34 L594.87,322.86 L596.05,322.37 L597.23,321.88 L598.41,321.39 L599.59,320.90 L600.77,320.40 L601.95,319.91 L603.13,319.41 L604.31,318.90 L605.49,318.39 L606.67,317.88 L607.86,317.37 L609.04,316.85 L610.22,316.33 L611.40,315.81 L612.58,315.28 L613.76,314.76 L614.94,314.23 L616.12,313.71 L617.30,313.18 L618.48,312.64 L619.66,312.11 L620.84,311.57 L622.02,311.03 L623.20,310.49 L624.38,309.94 L625.57,309.40 L626.75,308.85 L627.93,308.30 L627.93,404.90 L626.75,404.59 L625.57,404.28 L624.38,403.97 L623.20,403.66 L622.02,403.36 L620.84,403.06 L619.66,402.76 L618.48,402.46 L617.30,402.16 L616.12,401.87 L614.94,401.58 L613.76,401.29 L612.58,401.01 L611.40,400.72 L610.22,400.44 L609.04,400.15 L607.86,399.88 L606.67,399.60 L605.49,399.32 L604.31,399.05 L603.13,398.79 L601.95,398.52 L600.77,398.26 L599.59,398.01 L598.41,397.75 L597.23,397.50 L596.05,397.25 L594.87,397.00 L593.69,396.75 L592.51,396.51 L591.33,396.28 L590.15,396.05 L588.96,395.82 L587.78,395.60 L586.60,395.39 L585.42,395.17 L584.24,394.96 L583.06,394.75 L581.88,394.55 L580.70,394.35 L579.52,394.16 L578.34,393.97 L577.16,393.79 L575.98,393.61 L574.80,393.45 L573.62,393.29 L572.44,393.13 L571.25,392.98 L570.07,392.83 L568.89,392.68 L567.71,392.55 L566.53,392.41 L565.35,392.29 L564.17,392.18 L562.99,392.07 L561.81,391.98 L560.63,391.90 L559.45,391.82 L558.27,391.75 L557.09,391.67 L555.91,391.61 L554.72,391.54 L553.54,391.49 L552.36,391.45 L551.18,391.42 L550.00,391.41 L548.82,391.41 L547.64,391.43 L546.46,391.47 L545.28,391.50 L544.10,391.54 L542.92,391.59 L541.74,391.63 L540.56,391.69 L539.38,391.75 L538.20,391.82 L537.01,391.90 L535.83,391.99 L534.65,392.09 L533.47,392.21 L532.29,392.34 L531.11,392.49 L529.93,392.65 L528.75,392.82 L527.57,392.99 L526.39,393.18 L525.21,393.37 L524.03,393.56 L522.85,393.76 L521.67,393.96 L520.49,394.17 L519.30,394.38 L518.12,394.62 L516.94,394.87 L515.76,395.13 L514.58,395.41 L513.40,395.70 L512.22,396.00 L511.04,396.31 L509.86,396.62 L508.68,396.93 L507.50,397.25 L506.32,397.57 L505.14,397.90 L503.96,398.24 L502.78,398.59 L501.59,398.95 L500.41,399.32 L499.23,399.70 L498.05,400.08 L496.87,400.47 L495.69,400.86 L494.51,401.25 L493.33,401.65 L492.15,402.05 L490.97,402.46 L489.79,402.88 L488.61,403.31 L487.43,403.74 L486.25,404.18 L485.06,404.62 L483.88,405.06 L482.70,405.51 L481.52,405.96 L480.34,406.42 L479.16,406.88 L477.98,407.34 L476.80,407.81 L475.62,408.28 L474.44,408.76 L473.26,409.24 L472.08,409.73 L470.90,410.22 L469.72,410.71 L468.54,411.20 L467.35,411.70 L466.17,412.19 L464.99,412.69 L463.81,413.20 L462.63,413.71 L461.45,414.22 L460.27,414.73 L459.09,415.25 L457.91,415.77 L456.73,416.29 L455.55,416.82 L454.37,417.34 L453.19,417.87 L452.01,418.39 L450.83,418.92 L449.64,419.46 L448.46,419.99 L447.28,420.53 L446.10,421.07 L444.92,421.61 L443.74,422.16 L442.56,422.70 L441.38,423.25 L440.20,423.80Z" fill="#87CEEB" fill-opacity="0.2"/><path d="M440.20,375.50 L441.38,375.38 L442.56,375.26 L443.74,375.14 L444.92,375.02 L446.10,374.91 L447.28,374.79 L448.46,374.67 L449.64,374.55 L450.83,374.43 L452.01,374.31 L453.19,374.19 L454.37,374.07 L455.55,373.95 L456.73,373.84 L457.91,373.72 L459.09,373.60 L460.27,373.48 L461.45,373.36 L462.63,373.24 L463.81,373.12 L464.99,373.00 L466.17,372.88 L467.35,372.77 L468.54,372.65 L469.72,372.53 L470.90,372.41 L472.08,372.29 L473.26,372.17 L474.44,372.05 L475.62,371.93 L476.80,371.82 L477.98,371.70 L479.16,371.58 L480.34,371.46 L481.52,371.34 L482.70,371.22 L483.88,371.10 L485.06,370.98 L486.25,370.86 L487.43,370.75 L488.61,370.63 L489.79,370.51 L490.97,370.39 L492.15,370.27 L493.33,370.15 L494.51,370.03 L495.69,369.91 L496.87,369.79 L498.05,369.68 L499.23,369.56 L500.41,369.44 L501.59,369.32 L502.78,369.20 L503.96,369.08 L505.14,368.96 L506.32,368.84 L507.50,368.72 L508.68,368.61 L509.86,368.49 L511.04,368.37 L512.22,368.25 L513.40,368.13 L514.58,368.01 L515.76,367.89 L516.94,367.77 L518.12,367.65 L519.30,367.54 L520.49,367.42 L521.67,367.30 L522.85,367.18 L524.03,367.06 L525.21,366.94 L526.39,366.82 L527.57,366.70 L528.75,366.58 L529.93,366.47 L531.11,366.35 L532.29,366.23 L533.47,366.11 L534.65,365.99 L535.83,365.87 L537.01,365.75 L538.20,365.63 L539.38,365.52 L540.56,365.40 L541.74,365.28 L542.92,365.16 L544.10,365.04 L545.28,364.92 L546.46,364.80 L547.64,364.68 L548.82,364.56 L550.00,364.45 L551.18,364.33 L552.36,364.21 L553.54,364.09 L554.72,363.97 L555.91,363.85 L557.09,363.73 L558.27,363.61 L559.45,363.49 L560.63,363.38 L561.81,363.26 L562.99,363.14 L564.17,363.02 L565.35,362.90 L566.53,362.78 L567.71,362.66 L568.89,362.54 L570.07,362.42 L571.25,362.31 L572.44,362.19 L573.62,362.07 L574.80,361.95 L575.98,361.83 L577.16,361.71 L578.34,361.59 L579.52,361.47 L580.70,361.35 L581.88,361.24 L583.06,361.12 L584.24,361.00 L585.42,360.88 L586.60,360.76 L587.78,360.64 L588.96,360.52 L590.15,360.40 L591.33,360.28 L592.51,360.17 L593.69,360.05 L594.87,359.93 L596.05,359.81 L597.23,359.69 L598.41,359.57 L599.59,359.45 L600.77,359.33 L601.95,359.22 L603.13,359.10 L604.31,358.98 L605.49,358.86 L606.67,358.74 L607.86,358.62 L609.04,358.50 L610.22,358.38 L611.40,358.26 L612.58,358.15 L613.76,358.03 L614.94,357.91 L616.12,357.79 L617.30,357.67 L618.48,357.55 L619.66,357.43 L620.84,357.31 L622.02,357.19 L623.20,357.08 L624.38,356.96 L625.57,356.84 L626.75,356.72 L627.93,356.60" fill="none" stroke="#87CEEB" stroke-width="1.4" stroke-linejoin="round"/><path d="M440.20,337.51 L441.38,338.46 L442.56,339.38 L443.74,340.27 L444.92,341.12 L446.10,341.93 L447.28,342.70 L448.46,343.43 L449.64,344.12 L450.83,344.76 L452.01,345.36 L453.19,345.90 L454.37,346.39 L455.55,346.83 L456.73,347.22 L457.91,347.55 L459.09,347.81 L460.27,348.02 L461.45,348.18 L462.63,348.31 L463.81,348.39 L464.99,348.44 L466.17,348.44 L467.35,348.39 L468.54,348.30 L469.72,348.16 L470.90,347.96 L472.08,347.71 L473.26,347.39 L474.44,347.02 L475.62,346.59 L476.80,346.11 L477.98,345.58 L479.16,345.00 L480.34,344.39 L481.52,343.74 L482.70,343.05 L483.88,342.33 L485.06,341.57 L486.25,340.78 L487.43,339.96 L488.61,339.12 L489.79,338.25 L490.97,337.35 L492.15,336.44 L493.33,335.51 L494.51,334.56 L495.69,333.59 L496.87,332.61 L498.05,331.62 L499.23,330.62 L500.41,329.62 L501.59,328.61 L502.78,327.59 L503.96,326.58 L505.14,325.56 L506.32,324.55 L507.50,323.54 L508.68,322.53 L509.86,321.53 L511.04,320.55 L512.22,319.58 L513.40,318.63 L514.58,317.70 L515.76,316.80 L516.94,315.93 L518.12,315.09 L519.30,314.29 L520.49,313.53 L521.67,312.81 L522.85,312.14 L524.03,311.52 L525.21,310.96 L526.39,310.45 L527.57,310.00 L528.75,309.62 L529.93,309.30 L531.11,309.06 L532.29,308.90 L533.47,308.81 L534.65,308.81 L535.83,308.88 L537.01,309.04 L538.20,309.27 L539.38,309.59 L540.56,309.99 L541.74,310.47 L542.92,311.03 L544.10,311.67 L545.28,312.39 L546.46,313.19 L547.64,314.07 L548.82,315.01 L550.00,316.03 L551.18,317.11 L552.36,318.25 L553.54,319.46 L554.72,320.72 L555.91,322.04 L557.09,323.41 L558.27,324.84 L559.45,326.31 L560.63,327.82 L561.81,329.39 L562.99,331.00 L564.17,332.66 L565.35,334.37 L566.53,336.11 L567.71,337.89 L568.89,339.72 L570.07,341.57 L571.25,343.46 L572.44,345.38 L573.62,347.32 L574.80,349.28 L575.98,351.26 L577.16,353.26 L578.34,355.27 L579.52,357.28 L580.70,359.30 L581.88,361.33 L583.06,363.34 L584.24,365.36 L585.42,367.36 L586.60,369.36 L587.78,371.33 L588.96,373.29 L590.15,375.23 L591.33,377.15 L592.51,379.05 L593.69,380.92 L594.87,382.77 L596.05,384.59 L597.23,386.37 L598.41,388.10 L599.59,389.79 L600.77,391.44 L601.95,393.03 L603.13,394.58 L604.31,396.08 L605.49,397.54 L606.67,398.94 L607.86,400.28 L609.04,401.58 L610.22,402.82 L611.40,404.01 L612.58,405.14 L613.76,406.20 L614.94,407.13 L616.12,407.93 L617.30,408.61 L618.48,409.17 L619.66,409.62 L620.84,409.95 L622.02,410.18 L623.20,410.30 L624.38,410.33 L625.57,410.26 L626.75,410.11 L627.93,409.87 L627.93,454.15 L626.75,452.92 L625.57,451.64 L624.38,450.31 L623.20,448.94 L622.02,447.53 L620.84,446.10 L619.66,444.66 L618.48,443.20 L617.30,441.74 L616.12,440.29 L614.94,438.85 L613.76,437.43 L612.58,436.03 L611.40,434.61 L610.22,433.14 L609.04,431.63 L607.86,430.08 L606.67,428.50 L605.49,426.88 L604.31,425.23 L603.13,423.56 L601.95,421.85 L600.77,420.12 L599.59,418.37 L598.41,416.60 L597.23,414.80 L596.05,413.00 L594.87,411.17 L593.69,409.32 L592.51,407.45 L591.33,405.56 L590.15,403.64 L588.96,401.70 L587.78,399.74 L586.60,397.77 L585.42,395.78 L584.24,393.78 L583.06,391.77 L581.88,389.76 L580.70,387.74 L579.52,385.73 L578.34,383.72 L577.16,381.72 L575.98,379.73 L574.80,377.75 L573.62,375.80 L572.44,373.86 L571.25,371.96 L570.07,370.08 L568.89,368.23 L567.71,366.42 L566.53,364.65 L565.35,362.91 L564.17,361.22 L562.99,359.57 L561.81,357.97 L560.63,356.42 L559.45,354.91 L558.27,353.47 L557.09,352.08 L555.91,350.76 L554.72,349.50 L553.54,348.31 L552.36,347.18 L551.18,346.13 L550.00,345.14 L548.82,344.22 L547.64,343.38 L546.46,342.61 L545.28,341.91 L544.10,341.30 L542.92,340.76 L541.74,340.31 L540.56,339.93 L539.38,339.63 L538.20,339.41 L537.01,339.27 L535.83,339.20 L534.65,339.20 L533.47,339.27 L532.29,339.42 L531.11,339.63 L529.93,339.90 L528.75,340.25 L527.57,340.66 L526.39,341.14 L525.21,341.67 L524.03,342.27 L522.85,342.91 L521.67,343.61 L520.49,344.35 L519.30,345.14 L518.12,345.96 L516.94,346.82 L515.76,347.71 L514.58,348.63 L513.40,349.57 L512.22,350.53 L511.04,351.52 L509.86,352.51 L508.68,353.52 L507.50,354.53 L506.32,355.55 L505.14,356.56 L503.96,357.57 L502.78,358.58 L501.59,359.57 L500.41,360.55 L499.23,361.53 L498.05,362.49 L496.87,363.43 L495.69,364.36 L494.51,365.27 L493.33,366.17 L492.15,367.04 L490.97,367.90 L489.79,368.73 L488.61,369.54 L487.43,370.33 L486.25,371.09 L485.06,371.82 L483.88,372.53 L482.70,373.21 L481.52,373.85 L480.34,374.47 L479.16,375.05 L477.98,375.60 L476.80,376.11 L475.62,376.59 L474.44,377.03 L473.26,377.46 L472.08,377.86 L470.90,378.23 L469.72,378.58 L468.54,378.91 L467.35,379.21 L466.17,379.48 L464.99,379.72 L463.81,379.94 L462.63,380.13 L461.45,380.28 L460.27,380.41 L459.09,380.51 L457.91,380.61 L456.73,380.71 L455.55,380.80 L454.37,380.89 L453.19,380.97 L452.01,381.05 L450.83,381.12 L449.64,381.18 L448.46,381.23 L447.28,381.28 L446.10,381.32 L444.92,381.36 L443.74,381.38 L442.56,381.39 L441.38,381.40 L440.20,381.39Z" fill="#FFA500" fill-opacity="0.2"/><path d="M440.20,359.45 L441.38,359.93 L442.56,360.39 L443.74,360.82 L444.92,361.24 L446.10,361.63 L447.28,361.99 L448.46,362.33 L449.64,362.65 L450.83,362.94 L452.01,363.20 L453.19,363.43 L454.37,363.64 L455.55,363.82 L456.73,363.96 L457.91,364.08 L459.09,364.16 L460.27,364.21 L461.45,364.23 L462.63,364.22 L463.81,364.17 L464.99,364.08 L466.17,363.96 L467.35,363.80 L468.54,363.60 L469.72,363.37 L470.90,363.09 L472.08,362.78 L473.26,362.43 L474.44,362.03 L475.62,361.59 L476.80,361.11 L477.98,360.59 L479.16,360.03 L480.34,359.43 L481.52,358.80 L482.70,358.13 L483.88,357.43 L485.06,356.69 L486.25,355.93 L487.43,355.14 L488.61,354.33 L489.79,353.49 L490.97,352.63 L492.15,351.74 L493.33,350.84 L494.51,349.91 L495.69,348.98 L496.87,348.02 L498.05,347.05 L499.23,346.08 L500.41,345.09 L501.59,344.09 L502.78,343.08 L503.96,342.08 L505.14,341.06 L506.32,340.05 L507.50,339.03 L508.68,338.02 L509.86,337.02 L511.04,336.03 L512.22,335.05 L513.40,334.10 L514.58,333.16 L515.76,332.25 L516.94,331.37 L518.12,330.52 L519.30,329.71 L520.49,328.94 L521.67,328.21 L522.85,327.53 L524.03,326.89 L525.21,326.31 L526.39,325.79 L527.57,325.33 L528.75,324.93 L529.93,324.60 L531.11,324.34 L532.29,324.16 L533.47,324.04 L534.65,324.01 L535.83,324.04 L537.01,324.15 L538.20,324.34 L539.38,324.61 L540.56,324.96 L541.74,325.39 L542.92,325.89 L544.10,326.48 L545.28,327.15 L546.46,327.90 L547.64,328.72 L548.82,329.62 L550.00,330.58 L551.18,331.62 L552.36,332.72 L553.54,333.88 L554.72,335.11 L555.91,336.40 L557.09,337.75 L558.27,339.15 L559.45,340.61 L560.63,342.12 L561.81,343.68 L562.99,345.29 L564.17,346.94 L565.35,348.64 L566.53,350.38 L567.71,352.16 L568.89,353.97 L570.07,355.82 L571.25,357.71 L572.44,359.62 L573.62,361.56 L574.80,363.52 L575.98,365.49 L577.16,367.49 L578.34,369.49 L579.52,371.50 L580.70,373.52 L581.88,375.54 L583.06,377.56 L584.24,379.57 L585.42,381.57 L586.60,383.56 L587.78,385.54 L588.96,387.50 L590.15,389.44 L591.33,391.35 L592.51,393.25 L593.69,395.12 L594.87,396.97 L596.05,398.79 L597.23,400.59 L598.41,402.35 L599.59,404.08 L600.77,405.78 L601.95,407.44 L603.13,409.07 L604.31,410.66 L605.49,412.21 L606.67,413.72 L607.86,415.18 L609.04,416.60 L610.22,417.98 L611.40,419.31 L612.58,420.59 L613.76,421.81 L614.94,422.99 L616.12,424.11 L617.30,425.18 L618.48,426.19 L619.66,427.14 L620.84,428.03 L622.02,428.85 L623.20,429.62 L624.38,430.32 L625.57,430.95 L626.75,431.52 L627.93,432.01" fill="none" stroke="#FFA500" stroke-width="1.4" stroke-linejoin="round"/></g><rect x="27" y="16" width="1" height="212" fill="rgb(242,242,242)"/><rect x="28" y="16" width="1" height="212" fill="rgb(62,62,62)"/><rect x="29" y="16" width="1" height="212" fill="rgb(170,170,170)"/><rect x="30" y="16" width="1" height="212" fill="rgb(250,250,250)"/><rect x="27" y="224" width="311.5" height="1" fill="rgb(250,250,250)"/><rect x="27" y="225" width="311.5" height="1" fill="rgb(170,170,170)"/><rect x="27" y="226" width="311.5" height="1" fill="rgb(55,55,55)"/><rect x="27" y="227" width="311.5" height="1" fill="rgb(245,245,245)"/><line x1="25.900000000000002" y1="44.46" x2="28.3" y2="44.46" stroke="#6a6a6a" stroke-width="1"/><text x="24.6" y="48.76" text-anchor="end" class="tk">2</text><line x1="25.900000000000002" y1="82.78" x2="28.3" y2="82.78" stroke="#6a6a6a" stroke-width="1"/><text x="24.6" y="87.08" text-anchor="end" class="tk">1</text><line x1="25.900000000000002" y1="121.10" x2="28.3" y2="121.10" stroke="#6a6a6a" stroke-width="1"/><text x="24.6" y="125.40" text-anchor="end" class="tk">0</text><line x1="25.900000000000002" y1="159.42" x2="28.3" y2="159.42" stroke="#6a6a6a" stroke-width="1"/><text x="24.6" y="163.72" text-anchor="end" class="tk">−1</text><line x1="25.900000000000002" y1="197.74" x2="28.3" y2="197.74" stroke="#6a6a6a" stroke-width="1"/><text x="24.6" y="202.04" text-anchor="end" class="tk">−2</text><line x1="58.50" y1="226.4" x2="58.50" y2="228.9" stroke="#6a6a6a" stroke-width="1"/><text x="58.50" y="238" text-anchor="middle" class="tk">2000</text><line x1="136.73" y1="226.4" x2="136.73" y2="228.9" stroke="#6a6a6a" stroke-width="1"/><text x="136.73" y="238" text-anchor="middle" class="tk">3000</text><line x1="214.96" y1="226.4" x2="214.96" y2="228.9" stroke="#6a6a6a" stroke-width="1"/><text x="214.96" y="238" text-anchor="middle" class="tk">4000</text><line x1="293.19" y1="226.4" x2="293.19" y2="228.9" stroke="#6a6a6a" stroke-width="1"/><text x="293.19" y="238" text-anchor="middle" class="tk">5000</text><rect x="373" y="16" width="1" height="212" fill="rgb(250,250,250)"/><rect x="374" y="16" width="1" height="212" fill="rgb(200,200,200)"/><rect x="375" y="16" width="1" height="212" fill="rgb(110,110,110)"/><rect x="376" y="16" width="1" height="212" fill="rgb(245,245,245)"/><rect x="373" y="224" width="312" height="1" fill="rgb(250,250,250)"/><rect x="373" y="225" width="312" height="1" fill="rgb(170,170,170)"/><rect x="373" y="226" width="312" height="1" fill="rgb(55,55,55)"/><rect x="373" y="227" width="312" height="1" fill="rgb(245,245,245)"/><line x1="372.7" y1="44.46" x2="375.09999999999997" y2="44.46" stroke="#6a6a6a" stroke-width="1"/><text x="371.4" y="48.76" text-anchor="end" class="tk">2</text><line x1="372.7" y1="82.78" x2="375.09999999999997" y2="82.78" stroke="#6a6a6a" stroke-width="1"/><text x="371.4" y="87.08" text-anchor="end" class="tk">1</text><line x1="372.7" y1="121.10" x2="375.09999999999997" y2="121.10" stroke="#6a6a6a" stroke-width="1"/><text x="371.4" y="125.40" text-anchor="end" class="tk">0</text><line x1="372.7" y1="159.42" x2="375.09999999999997" y2="159.42" stroke="#6a6a6a" stroke-width="1"/><text x="371.4" y="163.72" text-anchor="end" class="tk">−1</text><line x1="372.7" y1="197.74" x2="375.09999999999997" y2="197.74" stroke="#6a6a6a" stroke-width="1"/><text x="371.4" y="202.04" text-anchor="end" class="tk">−2</text><line x1="405.00" y1="226.4" x2="405.00" y2="228.9" stroke="#6a6a6a" stroke-width="1"/><text x="405.00" y="238" text-anchor="middle" class="tk">2000</text><line x1="483.22" y1="226.4" x2="483.22" y2="228.9" stroke="#6a6a6a" stroke-width="1"/><text x="483.22" y="238" text-anchor="middle" class="tk">3000</text><line x1="561.44" y1="226.4" x2="561.44" y2="228.9" stroke="#6a6a6a" stroke-width="1"/><text x="561.44" y="238" text-anchor="middle" class="tk">4000</text><line x1="639.66" y1="226.4" x2="639.66" y2="228.9" stroke="#6a6a6a" stroke-width="1"/><text x="639.66" y="238" text-anchor="middle" class="tk">5000</text><rect x="27" y="261" width="1" height="212" fill="rgb(242,242,242)"/><rect x="28" y="261" width="1" height="212" fill="rgb(62,62,62)"/><rect x="29" y="261" width="1" height="212" fill="rgb(170,170,170)"/><rect x="30" y="261" width="1" height="212" fill="rgb(250,250,250)"/><rect x="27" y="469" width="311.5" height="1" fill="rgb(250,250,250)"/><rect x="27" y="470" width="311.5" height="1" fill="rgb(165,165,165)"/><rect x="27" y="471" width="311.5" height="1" fill="rgb(70,70,70)"/><rect x="27" y="472" width="311.5" height="1" fill="rgb(245,245,245)"/><line x1="25.900000000000002" y1="289.30" x2="28.3" y2="289.30" stroke="#6a6a6a" stroke-width="1"/><text x="24.6" y="293.60" text-anchor="end" class="tk">2</text><line x1="25.900000000000002" y1="327.60" x2="28.3" y2="327.60" stroke="#6a6a6a" stroke-width="1"/><text x="24.6" y="331.90" text-anchor="end" class="tk">1</text><line x1="25.900000000000002" y1="365.90" x2="28.3" y2="365.90" stroke="#6a6a6a" stroke-width="1"/><text x="24.6" y="370.20" text-anchor="end" class="tk">0</text><line x1="25.900000000000002" y1="404.20" x2="28.3" y2="404.20" stroke="#6a6a6a" stroke-width="1"/><text x="24.6" y="408.50" text-anchor="end" class="tk">−1</text><line x1="25.900000000000002" y1="442.50" x2="28.3" y2="442.50" stroke="#6a6a6a" stroke-width="1"/><text x="24.6" y="446.80" text-anchor="end" class="tk">−2</text><line x1="58.50" y1="471.4" x2="58.50" y2="473.9" stroke="#6a6a6a" stroke-width="1"/><text x="58.50" y="483" text-anchor="middle" class="tk">2000</text><line x1="136.73" y1="471.4" x2="136.73" y2="473.9" stroke="#6a6a6a" stroke-width="1"/><text x="136.73" y="483" text-anchor="middle" class="tk">3000</text><line x1="214.96" y1="471.4" x2="214.96" y2="473.9" stroke="#6a6a6a" stroke-width="1"/><text x="214.96" y="483" text-anchor="middle" class="tk">4000</text><line x1="293.19" y1="471.4" x2="293.19" y2="473.9" stroke="#6a6a6a" stroke-width="1"/><text x="293.19" y="483" text-anchor="middle" class="tk">5000</text><rect x="373" y="261" width="1" height="212" fill="rgb(250,250,250)"/><rect x="374" y="261" width="1" height="212" fill="rgb(200,200,200)"/><rect x="375" y="261" width="1" height="212" fill="rgb(110,110,110)"/><rect x="376" y="261" width="1" height="212" fill="rgb(245,245,245)"/><rect x="373" y="469" width="312" height="1" fill="rgb(250,250,250)"/><rect x="373" y="470" width="312" height="1" fill="rgb(165,165,165)"/><rect x="373" y="471" width="312" height="1" fill="rgb(70,70,70)"/><rect x="373" y="472" width="312" height="1" fill="rgb(245,245,245)"/><line x1="372.7" y1="289.30" x2="375.09999999999997" y2="289.30" stroke="#6a6a6a" stroke-width="1"/><text x="371.4" y="293.60" text-anchor="end" class="tk">2</text><line x1="372.7" y1="327.60" x2="375.09999999999997" y2="327.60" stroke="#6a6a6a" stroke-width="1"/><text x="371.4" y="331.90" text-anchor="end" class="tk">1</text><line x1="372.7" y1="365.90" x2="375.09999999999997" y2="365.90" stroke="#6a6a6a" stroke-width="1"/><text x="371.4" y="370.20" text-anchor="end" class="tk">0</text><line x1="372.7" y1="404.20" x2="375.09999999999997" y2="404.20" stroke="#6a6a6a" stroke-width="1"/><text x="371.4" y="408.50" text-anchor="end" class="tk">−1</text><line x1="372.7" y1="442.50" x2="375.09999999999997" y2="442.50" stroke="#6a6a6a" stroke-width="1"/><text x="371.4" y="446.80" text-anchor="end" class="tk">−2</text><line x1="405.00" y1="471.4" x2="405.00" y2="473.9" stroke="#6a6a6a" stroke-width="1"/><text x="405.00" y="483" text-anchor="middle" class="tk">2000</text><line x1="483.22" y1="471.4" x2="483.22" y2="473.9" stroke="#6a6a6a" stroke-width="1"/><text x="483.22" y="483" text-anchor="middle" class="tk">3000</text><line x1="561.44" y1="471.4" x2="561.44" y2="473.9" stroke="#6a6a6a" stroke-width="1"/><text x="561.44" y="483" text-anchor="middle" class="tk">4000</text><line x1="639.66" y1="471.4" x2="639.66" y2="473.9" stroke="#6a6a6a" stroke-width="1"/><text x="639.66" y="483" text-anchor="middle" class="tk">5000</text><text x="166.9" y="9.3" text-anchor="middle" class="ti" textLength="110.8" lengthAdjust="spacingAndGlyphs">Central Himalayas</text><text x="530" y="9.3" text-anchor="middle" class="ti" textLength="93" lengthAdjust="spacingAndGlyphs">East Himalayas</text><text x="-0.3" y="23.8" class="pl">a</text><text x="346.5" y="23.9" class="pl">b</text><text x="-0.3" y="268.3" class="pl">c</text><text x="346.5" y="268.8" class="pl">d</text><text x="183.9" y="494.6" text-anchor="middle" class="at" textLength="92.4" lengthAdjust="spacingAndGlyphs">Elevation (m a.s.l.)</text><text x="530.2" y="494.6" text-anchor="middle" class="at" textLength="92.4" lengthAdjust="spacingAndGlyphs">Elevation (m a.s.l.)</text><text transform="translate(9.2,120.5) rotate(-90)" text-anchor="middle" class="at" textLength="45.2" lengthAdjust="spacingAndGlyphs">Diversity</text><text transform="translate(9.2,365.4) rotate(-90)" text-anchor="middle" class="at" textLength="69.9" lengthAdjust="spacingAndGlyphs">SES.diversidy</text>
</svg></body></html>
